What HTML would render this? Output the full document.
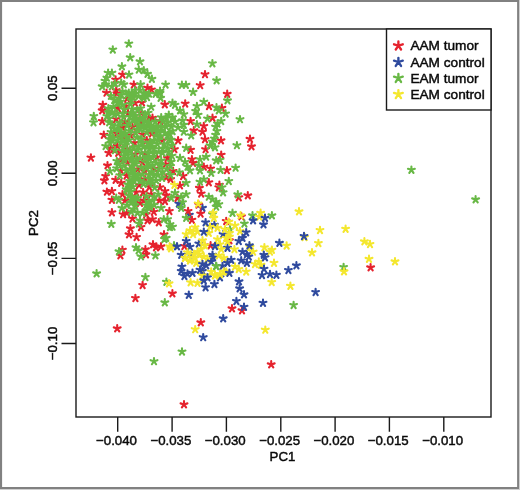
<!DOCTYPE html>
<html lang="en"><head><meta charset="utf-8"><title>PCA plot</title>
<style>html,body{margin:0;padding:0;background:#fff}body{width:520px;height:490px;overflow:hidden;position:relative}</style></head>
<body>
<svg width="520" height="490" viewBox="0 0 520 490" style="position:absolute;left:0;top:0">
<rect x="0" y="0" width="520" height="490" fill="#fff"/>
<path d="M0 0H520V490H0Z" fill="#d0d0d0"/>
<path d="M0 0H519V489H0Z" fill="#818181"/>
<path d="M2.1 2.1H517.1V487.1H2.1Z" fill="#fff"/>
<path d="M180.6 204.8l0.00 -3.24M180.6 204.8l-3.42 -1.03M180.6 204.8l3.42 -1.03M180.6 204.8l-2.07 3.06M180.6 204.8l2.07 3.06M189.4 214.8l0.00 -3.24M189.4 214.8l-3.42 -1.03M189.4 214.8l3.42 -1.03M189.4 214.8l-2.07 3.06M189.4 214.8l2.07 3.06M202.5 207.9l0.00 -3.24M202.5 207.9l-3.42 -1.03M202.5 207.9l3.42 -1.03M202.5 207.9l-2.07 3.06M202.5 207.9l2.07 3.06M178.8 203.5l0.00 -3.24M178.8 203.5l-3.42 -1.03M178.8 203.5l3.42 -1.03M178.8 203.5l-2.07 3.06M178.8 203.5l2.07 3.06" fill="none" stroke="#2f4a9e" stroke-width="2.1" stroke-linecap="round"/>
<path d="M370.6 267.4l0.00 -3.24M370.6 267.4l-3.42 -1.03M370.6 267.4l3.42 -1.03M370.6 267.4l-2.07 3.06M370.6 267.4l2.07 3.06M117.2 328.4l0.00 -3.24M117.2 328.4l-3.42 -1.03M117.2 328.4l3.42 -1.03M117.2 328.4l-2.07 3.06M117.2 328.4l2.07 3.06M184.0 404.4l0.00 -3.24M184.0 404.4l-3.42 -1.03M184.0 404.4l3.42 -1.03M184.0 404.4l-2.07 3.06M184.0 404.4l2.07 3.06M200.8 322.4l0.00 -3.24M200.8 322.4l-3.42 -1.03M200.8 322.4l3.42 -1.03M200.8 322.4l-2.07 3.06M200.8 322.4l2.07 3.06M232.0 308.4l0.00 -3.24M232.0 308.4l-3.42 -1.03M232.0 308.4l3.42 -1.03M232.0 308.4l-2.07 3.06M232.0 308.4l2.07 3.06M242.0 310.4l0.00 -3.24M242.0 310.4l-3.42 -1.03M242.0 310.4l3.42 -1.03M242.0 310.4l-2.07 3.06M242.0 310.4l2.07 3.06M271.2 364.4l0.00 -3.24M271.2 364.4l-3.42 -1.03M271.2 364.4l3.42 -1.03M271.2 364.4l-2.07 3.06M271.2 364.4l2.07 3.06M142.6 285.0l0.00 -3.24M142.6 285.0l-3.42 -1.03M142.6 285.0l3.42 -1.03M142.6 285.0l-2.07 3.06M142.6 285.0l2.07 3.06M135.4 298.0l0.00 -3.24M135.4 298.0l-3.42 -1.03M135.4 298.0l3.42 -1.03M135.4 298.0l-2.07 3.06M135.4 298.0l2.07 3.06M172.4 293.4l0.00 -3.24M172.4 293.4l-3.42 -1.03M172.4 293.4l3.42 -1.03M172.4 293.4l-2.07 3.06M172.4 293.4l2.07 3.06M120.4 255.4l0.00 -3.24M120.4 255.4l-3.42 -1.03M120.4 255.4l3.42 -1.03M120.4 255.4l-2.07 3.06M120.4 255.4l2.07 3.06M122.4 249.8l0.00 -3.24M122.4 249.8l-3.42 -1.03M122.4 249.8l3.42 -1.03M122.4 249.8l-2.07 3.06M122.4 249.8l2.07 3.06M130.4 228.4l0.00 -3.24M130.4 228.4l-3.42 -1.03M130.4 228.4l3.42 -1.03M130.4 228.4l-2.07 3.06M130.4 228.4l2.07 3.06M129.0 234.4l0.00 -3.24M129.0 234.4l-3.42 -1.03M129.0 234.4l3.42 -1.03M129.0 234.4l-2.07 3.06M129.0 234.4l2.07 3.06M136.6 237.0l0.00 -3.24M136.6 237.0l-3.42 -1.03M136.6 237.0l3.42 -1.03M136.6 237.0l-2.07 3.06M136.6 237.0l2.07 3.06M141.0 227.0l0.00 -3.24M141.0 227.0l-3.42 -1.03M141.0 227.0l3.42 -1.03M141.0 227.0l-2.07 3.06M141.0 227.0l2.07 3.06M145.4 249.4l0.00 -3.24M145.4 249.4l-3.42 -1.03M145.4 249.4l3.42 -1.03M145.4 249.4l-2.07 3.06M145.4 249.4l2.07 3.06M146.0 254.4l0.00 -3.24M146.0 254.4l-3.42 -1.03M146.0 254.4l3.42 -1.03M146.0 254.4l-2.07 3.06M146.0 254.4l2.07 3.06M153.0 244.4l0.00 -3.24M153.0 244.4l-3.42 -1.03M153.0 244.4l3.42 -1.03M153.0 244.4l-2.07 3.06M153.0 244.4l2.07 3.06M156.0 247.4l0.00 -3.24M156.0 247.4l-3.42 -1.03M156.0 247.4l3.42 -1.03M156.0 247.4l-2.07 3.06M156.0 247.4l2.07 3.06M161.0 246.4l0.00 -3.24M161.0 246.4l-3.42 -1.03M161.0 246.4l3.42 -1.03M161.0 246.4l-2.07 3.06M161.0 246.4l2.07 3.06M164.0 234.4l0.00 -3.24M164.0 234.4l-3.42 -1.03M164.0 234.4l3.42 -1.03M164.0 234.4l-2.07 3.06M164.0 234.4l2.07 3.06M122.5 74.5l0.00 -3.24M122.5 74.5l-3.42 -1.03M122.5 74.5l3.42 -1.03M122.5 74.5l-2.07 3.06M122.5 74.5l2.07 3.06M115.6 79.5l0.00 -3.24M115.6 79.5l-3.42 -1.03M115.6 79.5l3.42 -1.03M115.6 79.5l-2.07 3.06M115.6 79.5l2.07 3.06M133.8 84.5l0.00 -3.24M133.8 84.5l-3.42 -1.03M133.8 84.5l3.42 -1.03M133.8 84.5l-2.07 3.06M133.8 84.5l2.07 3.06M147.5 87.7l0.00 -3.24M147.5 87.7l-3.42 -1.03M147.5 87.7l3.42 -1.03M147.5 87.7l-2.07 3.06M147.5 87.7l2.07 3.06M106.5 92.7l0.00 -3.24M106.5 92.7l-3.42 -1.03M106.5 92.7l3.42 -1.03M106.5 92.7l-2.07 3.06M106.5 92.7l2.07 3.06M116.2 90.2l0.00 -3.24M116.2 90.2l-3.42 -1.03M116.2 90.2l3.42 -1.03M116.2 90.2l-2.07 3.06M116.2 90.2l2.07 3.06M116.9 93.3l0.00 -3.24M116.9 93.3l-3.42 -1.03M116.9 93.3l3.42 -1.03M116.9 93.3l-2.07 3.06M116.9 93.3l2.07 3.06M205.0 74.2l0.00 -3.24M205.0 74.2l-3.42 -1.03M205.0 74.2l3.42 -1.03M205.0 74.2l-2.07 3.06M205.0 74.2l2.07 3.06M200.2 85.2l0.00 -3.24M200.2 85.2l-3.42 -1.03M200.2 85.2l3.42 -1.03M200.2 85.2l-2.07 3.06M200.2 85.2l2.07 3.06M151.5 89.5l0.00 -3.24M151.5 89.5l-3.42 -1.03M151.5 89.5l3.42 -1.03M151.5 89.5l-2.07 3.06M151.5 89.5l2.07 3.06M227.2 93.9l0.00 -3.24M227.2 93.9l-3.42 -1.03M227.2 93.9l3.42 -1.03M227.2 93.9l-2.07 3.06M227.2 93.9l2.07 3.06M102.8 104.8l0.00 -3.24M102.8 104.8l-3.42 -1.03M102.8 104.8l3.42 -1.03M102.8 104.8l-2.07 3.06M102.8 104.8l2.07 3.06M102.2 110.4l0.00 -3.24M102.2 110.4l-3.42 -1.03M102.2 110.4l3.42 -1.03M102.2 110.4l-2.07 3.06M102.2 110.4l2.07 3.06M102.2 121.0l0.00 -3.24M102.2 121.0l-3.42 -1.03M102.2 121.0l3.42 -1.03M102.2 121.0l-2.07 3.06M102.2 121.0l2.07 3.06M103.8 134.8l0.00 -3.24M103.8 134.8l-3.42 -1.03M103.8 134.8l3.42 -1.03M103.8 134.8l-2.07 3.06M103.8 134.8l2.07 3.06M110.6 148.4l0.00 -3.24M110.6 148.4l-3.42 -1.03M110.6 148.4l3.42 -1.03M110.6 148.4l-2.07 3.06M110.6 148.4l2.07 3.06M118.1 108.5l0.00 -3.24M118.1 108.5l-3.42 -1.03M118.1 108.5l3.42 -1.03M118.1 108.5l-2.07 3.06M118.1 108.5l2.07 3.06M135.0 102.9l0.00 -3.24M135.0 102.9l-3.42 -1.03M135.0 102.9l3.42 -1.03M135.0 102.9l-2.07 3.06M135.0 102.9l2.07 3.06M125.0 121.7l0.00 -3.24M125.0 121.7l-3.42 -1.03M125.0 121.7l3.42 -1.03M125.0 121.7l-2.07 3.06M125.0 121.7l2.07 3.06M122.5 127.4l0.00 -3.24M122.5 127.4l-3.42 -1.03M122.5 127.4l3.42 -1.03M122.5 127.4l-2.07 3.06M122.5 127.4l2.07 3.06M134.4 142.9l0.00 -3.24M134.4 142.9l-3.42 -1.03M134.4 142.9l3.42 -1.03M134.4 142.9l-2.07 3.06M134.4 142.9l2.07 3.06M148.8 117.9l0.00 -3.24M148.8 117.9l-3.42 -1.03M148.8 117.9l3.42 -1.03M148.8 117.9l-2.07 3.06M148.8 117.9l2.07 3.06M142.5 134.2l0.00 -3.24M142.5 134.2l-3.42 -1.03M142.5 134.2l3.42 -1.03M142.5 134.2l-2.07 3.06M142.5 134.2l2.07 3.06M132.5 126.7l0.00 -3.24M132.5 126.7l-3.42 -1.03M132.5 126.7l3.42 -1.03M132.5 126.7l-2.07 3.06M132.5 126.7l2.07 3.06M164.8 104.4l0.00 -3.24M164.8 104.4l-3.42 -1.03M164.8 104.4l3.42 -1.03M164.8 104.4l-2.07 3.06M164.8 104.4l2.07 3.06M185.2 103.5l0.00 -3.24M185.2 103.5l-3.42 -1.03M185.2 103.5l3.42 -1.03M185.2 103.5l-2.07 3.06M185.2 103.5l2.07 3.06M209.0 106.0l0.00 -3.24M209.0 106.0l-3.42 -1.03M209.0 106.0l3.42 -1.03M209.0 106.0l-2.07 3.06M209.0 106.0l2.07 3.06M152.5 117.9l0.00 -3.24M152.5 117.9l-3.42 -1.03M152.5 117.9l3.42 -1.03M152.5 117.9l-2.07 3.06M152.5 117.9l2.07 3.06M160.0 121.0l0.00 -3.24M160.0 121.0l-3.42 -1.03M160.0 121.0l3.42 -1.03M160.0 121.0l-2.07 3.06M160.0 121.0l2.07 3.06M190.6 121.0l0.00 -3.24M190.6 121.0l-3.42 -1.03M190.6 121.0l3.42 -1.03M190.6 121.0l-2.07 3.06M190.6 121.0l2.07 3.06M212.5 117.9l0.00 -3.24M212.5 117.9l-3.42 -1.03M212.5 117.9l3.42 -1.03M212.5 117.9l-2.07 3.06M212.5 117.9l2.07 3.06M203.8 126.0l0.00 -3.24M203.8 126.0l-3.42 -1.03M203.8 126.0l3.42 -1.03M203.8 126.0l-2.07 3.06M203.8 126.0l2.07 3.06M193.8 130.4l0.00 -3.24M193.8 130.4l-3.42 -1.03M193.8 130.4l3.42 -1.03M193.8 130.4l-2.07 3.06M193.8 130.4l2.07 3.06M202.5 131.7l0.00 -3.24M202.5 131.7l-3.42 -1.03M202.5 131.7l3.42 -1.03M202.5 131.7l-2.07 3.06M202.5 131.7l2.07 3.06M205.0 139.2l0.00 -3.24M205.0 139.2l-3.42 -1.03M205.0 139.2l3.42 -1.03M205.0 139.2l-2.07 3.06M205.0 139.2l2.07 3.06M178.1 140.4l0.00 -3.24M178.1 140.4l-3.42 -1.03M178.1 140.4l3.42 -1.03M178.1 140.4l-2.07 3.06M178.1 140.4l2.07 3.06M162.5 140.4l0.00 -3.24M162.5 140.4l-3.42 -1.03M162.5 140.4l3.42 -1.03M162.5 140.4l-2.07 3.06M162.5 140.4l2.07 3.06M151.9 133.5l0.00 -3.24M151.9 133.5l-3.42 -1.03M151.9 133.5l3.42 -1.03M151.9 133.5l-2.07 3.06M151.9 133.5l2.07 3.06M174.4 149.2l0.00 -3.24M174.4 149.2l-3.42 -1.03M174.4 149.2l3.42 -1.03M174.4 149.2l-2.07 3.06M174.4 149.2l2.07 3.06M190.6 149.8l0.00 -3.24M190.6 149.8l-3.42 -1.03M190.6 149.8l3.42 -1.03M190.6 149.8l-2.07 3.06M190.6 149.8l2.07 3.06M205.6 149.2l0.00 -3.24M205.6 149.2l-3.42 -1.03M205.6 149.2l3.42 -1.03M205.6 149.2l-2.07 3.06M205.6 149.2l2.07 3.06M221.9 107.9l0.00 -3.24M221.9 107.9l-3.42 -1.03M221.9 107.9l3.42 -1.03M221.9 107.9l-2.07 3.06M221.9 107.9l2.07 3.06M221.0 140.4l0.00 -3.24M221.0 140.4l-3.42 -1.03M221.0 140.4l3.42 -1.03M221.0 140.4l-2.07 3.06M221.0 140.4l2.07 3.06M250.0 138.9l0.00 -3.24M250.0 138.9l-3.42 -1.03M250.0 138.9l3.42 -1.03M250.0 138.9l-2.07 3.06M250.0 138.9l2.07 3.06M251.5 146.4l0.00 -3.24M251.5 146.4l-3.42 -1.03M251.5 146.4l3.42 -1.03M251.5 146.4l-2.07 3.06M251.5 146.4l2.07 3.06M90.9 157.5l0.00 -3.24M90.9 157.5l-3.42 -1.03M90.9 157.5l3.42 -1.03M90.9 157.5l-2.07 3.06M90.9 157.5l2.07 3.06M107.5 165.4l0.00 -3.24M107.5 165.4l-3.42 -1.03M107.5 165.4l3.42 -1.03M107.5 165.4l-2.07 3.06M107.5 165.4l2.07 3.06M108.8 152.9l0.00 -3.24M108.8 152.9l-3.42 -1.03M108.8 152.9l3.42 -1.03M108.8 152.9l-2.07 3.06M108.8 152.9l2.07 3.06M104.4 180.4l0.00 -3.24M104.4 180.4l-3.42 -1.03M104.4 180.4l3.42 -1.03M104.4 180.4l-2.07 3.06M104.4 180.4l2.07 3.06M105.6 176.0l0.00 -3.24M105.6 176.0l-3.42 -1.03M105.6 176.0l3.42 -1.03M105.6 176.0l-2.07 3.06M105.6 176.0l2.07 3.06M115.6 179.8l0.00 -3.24M115.6 179.8l-3.42 -1.03M115.6 179.8l3.42 -1.03M115.6 179.8l-2.07 3.06M115.6 179.8l2.07 3.06M106.9 191.7l0.00 -3.24M106.9 191.7l-3.42 -1.03M106.9 191.7l3.42 -1.03M106.9 191.7l-2.07 3.06M106.9 191.7l2.07 3.06M111.9 191.0l0.00 -3.24M111.9 191.0l-3.42 -1.03M111.9 191.0l3.42 -1.03M111.9 191.0l-2.07 3.06M111.9 191.0l2.07 3.06M111.9 199.8l0.00 -3.24M111.9 199.8l-3.42 -1.03M111.9 199.8l3.42 -1.03M111.9 199.8l-2.07 3.06M111.9 199.8l2.07 3.06M122.5 194.2l0.00 -3.24M122.5 194.2l-3.42 -1.03M122.5 194.2l3.42 -1.03M122.5 194.2l-2.07 3.06M122.5 194.2l2.07 3.06M125.0 200.4l0.00 -3.24M125.0 200.4l-3.42 -1.03M125.0 200.4l3.42 -1.03M125.0 200.4l-2.07 3.06M125.0 200.4l2.07 3.06M136.2 192.3l0.00 -3.24M136.2 192.3l-3.42 -1.03M136.2 192.3l3.42 -1.03M136.2 192.3l-2.07 3.06M136.2 192.3l2.07 3.06M143.1 192.3l0.00 -3.24M143.1 192.3l-3.42 -1.03M143.1 192.3l3.42 -1.03M143.1 192.3l-2.07 3.06M143.1 192.3l2.07 3.06M140.0 202.9l0.00 -3.24M140.0 202.9l-3.42 -1.03M140.0 202.9l3.42 -1.03M140.0 202.9l-2.07 3.06M140.0 202.9l2.07 3.06M143.8 200.4l0.00 -3.24M143.8 200.4l-3.42 -1.03M143.8 200.4l3.42 -1.03M143.8 200.4l-2.07 3.06M143.8 200.4l2.07 3.06M127.5 162.9l0.00 -3.24M127.5 162.9l-3.42 -1.03M127.5 162.9l3.42 -1.03M127.5 162.9l-2.07 3.06M127.5 162.9l2.07 3.06M142.5 162.3l0.00 -3.24M142.5 162.3l-3.42 -1.03M142.5 162.3l3.42 -1.03M142.5 162.3l-2.07 3.06M142.5 162.3l2.07 3.06M145.0 179.2l0.00 -3.24M145.0 179.2l-3.42 -1.03M145.0 179.2l3.42 -1.03M145.0 179.2l-2.07 3.06M145.0 179.2l2.07 3.06M137.5 169.2l0.00 -3.24M137.5 169.2l-3.42 -1.03M137.5 169.2l3.42 -1.03M137.5 169.2l-2.07 3.06M137.5 169.2l2.07 3.06M121.2 182.9l0.00 -3.24M121.2 182.9l-3.42 -1.03M121.2 182.9l3.42 -1.03M121.2 182.9l-2.07 3.06M121.2 182.9l2.07 3.06M191.9 159.2l0.00 -3.24M191.9 159.2l-3.42 -1.03M191.9 159.2l3.42 -1.03M191.9 159.2l-2.07 3.06M191.9 159.2l2.07 3.06M193.1 162.9l0.00 -3.24M193.1 162.9l-3.42 -1.03M193.1 162.9l3.42 -1.03M193.1 162.9l-2.07 3.06M193.1 162.9l2.07 3.06M167.5 157.9l0.00 -3.24M167.5 157.9l-3.42 -1.03M167.5 157.9l3.42 -1.03M167.5 157.9l-2.07 3.06M167.5 157.9l2.07 3.06M165.6 164.2l0.00 -3.24M165.6 164.2l-3.42 -1.03M165.6 164.2l3.42 -1.03M165.6 164.2l-2.07 3.06M165.6 164.2l2.07 3.06M156.9 157.3l0.00 -3.24M156.9 157.3l-3.42 -1.03M156.9 157.3l3.42 -1.03M156.9 157.3l-2.07 3.06M156.9 157.3l2.07 3.06M203.8 166.7l0.00 -3.24M203.8 166.7l-3.42 -1.03M203.8 166.7l3.42 -1.03M203.8 166.7l-2.07 3.06M203.8 166.7l2.07 3.06M210.6 168.5l0.00 -3.24M210.6 168.5l-3.42 -1.03M210.6 168.5l3.42 -1.03M210.6 168.5l-2.07 3.06M210.6 168.5l2.07 3.06M173.1 171.0l0.00 -3.24M173.1 171.0l-3.42 -1.03M173.1 171.0l3.42 -1.03M173.1 171.0l-2.07 3.06M173.1 171.0l2.07 3.06M183.1 176.0l0.00 -3.24M183.1 176.0l-3.42 -1.03M183.1 176.0l3.42 -1.03M183.1 176.0l-2.07 3.06M183.1 176.0l2.07 3.06M166.2 177.3l0.00 -3.24M166.2 177.3l-3.42 -1.03M166.2 177.3l3.42 -1.03M166.2 177.3l-2.07 3.06M166.2 177.3l2.07 3.06M170.6 179.2l0.00 -3.24M170.6 179.2l-3.42 -1.03M170.6 179.2l3.42 -1.03M170.6 179.2l-2.07 3.06M170.6 179.2l2.07 3.06M208.8 182.3l0.00 -3.24M208.8 182.3l-3.42 -1.03M208.8 182.3l3.42 -1.03M208.8 182.3l-2.07 3.06M208.8 182.3l2.07 3.06M180.0 185.4l0.00 -3.24M180.0 185.4l-3.42 -1.03M180.0 185.4l3.42 -1.03M180.0 185.4l-2.07 3.06M180.0 185.4l2.07 3.06M199.4 187.9l0.00 -3.24M199.4 187.9l-3.42 -1.03M199.4 187.9l3.42 -1.03M199.4 187.9l-2.07 3.06M199.4 187.9l2.07 3.06M201.2 193.5l0.00 -3.24M201.2 193.5l-3.42 -1.03M201.2 193.5l3.42 -1.03M201.2 193.5l-2.07 3.06M201.2 193.5l2.07 3.06M160.0 187.3l0.00 -3.24M160.0 187.3l-3.42 -1.03M160.0 187.3l3.42 -1.03M160.0 187.3l-2.07 3.06M160.0 187.3l2.07 3.06M165.0 191.0l0.00 -3.24M165.0 191.0l-3.42 -1.03M165.0 191.0l3.42 -1.03M165.0 191.0l-2.07 3.06M165.0 191.0l2.07 3.06M166.2 195.4l0.00 -3.24M166.2 195.4l-3.42 -1.03M166.2 195.4l3.42 -1.03M166.2 195.4l-2.07 3.06M166.2 195.4l2.07 3.06M159.4 200.4l0.00 -3.24M159.4 200.4l-3.42 -1.03M159.4 200.4l3.42 -1.03M159.4 200.4l-2.07 3.06M159.4 200.4l2.07 3.06M165.0 201.0l0.00 -3.24M165.0 201.0l-3.42 -1.03M165.0 201.0l3.42 -1.03M165.0 201.0l-2.07 3.06M165.0 201.0l2.07 3.06M177.5 197.9l0.00 -3.24M177.5 197.9l-3.42 -1.03M177.5 197.9l3.42 -1.03M177.5 197.9l-2.07 3.06M177.5 197.9l2.07 3.06M154.4 168.5l0.00 -3.24M154.4 168.5l-3.42 -1.03M154.4 168.5l3.42 -1.03M154.4 168.5l-2.07 3.06M154.4 168.5l2.07 3.06M151.2 194.2l0.00 -3.24M151.2 194.2l-3.42 -1.03M151.2 194.2l3.42 -1.03M151.2 194.2l-2.07 3.06M151.2 194.2l2.07 3.06M221.2 154.8l0.00 -3.24M221.2 154.8l-3.42 -1.03M221.2 154.8l3.42 -1.03M221.2 154.8l-2.07 3.06M221.2 154.8l2.07 3.06M226.9 170.2l0.00 -3.24M226.9 170.2l-3.42 -1.03M226.9 170.2l3.42 -1.03M226.9 170.2l-2.07 3.06M226.9 170.2l2.07 3.06M219.4 184.8l0.00 -3.24M219.4 184.8l-3.42 -1.03M219.4 184.8l3.42 -1.03M219.4 184.8l-2.07 3.06M219.4 184.8l2.07 3.06M218.8 187.3l0.00 -3.24M218.8 187.3l-3.42 -1.03M218.8 187.3l3.42 -1.03M218.8 187.3l-2.07 3.06M218.8 187.3l2.07 3.06M238.8 197.3l0.00 -3.24M238.8 197.3l-3.42 -1.03M238.8 197.3l3.42 -1.03M238.8 197.3l-2.07 3.06M238.8 197.3l2.07 3.06M247.8 195.4l0.00 -3.24M247.8 195.4l-3.42 -1.03M247.8 195.4l3.42 -1.03M247.8 195.4l-2.07 3.06M247.8 195.4l2.07 3.06M111.9 212.3l0.00 -3.24M111.9 212.3l-3.42 -1.03M111.9 212.3l3.42 -1.03M111.9 212.3l-2.07 3.06M111.9 212.3l2.07 3.06M123.1 214.2l0.00 -3.24M123.1 214.2l-3.42 -1.03M123.1 214.2l3.42 -1.03M123.1 214.2l-2.07 3.06M123.1 214.2l2.07 3.06M126.9 212.9l0.00 -3.24M126.9 212.9l-3.42 -1.03M126.9 212.9l3.42 -1.03M126.9 212.9l-2.07 3.06M126.9 212.9l2.07 3.06M132.5 218.5l0.00 -3.24M132.5 218.5l-3.42 -1.03M132.5 218.5l3.42 -1.03M132.5 218.5l-2.07 3.06M132.5 218.5l2.07 3.06M147.5 220.4l0.00 -3.24M147.5 220.4l-3.42 -1.03M147.5 220.4l3.42 -1.03M147.5 220.4l-2.07 3.06M147.5 220.4l2.07 3.06M152.5 219.2l0.00 -3.24M152.5 219.2l-3.42 -1.03M152.5 219.2l3.42 -1.03M152.5 219.2l-2.07 3.06M152.5 219.2l2.07 3.06M158.8 222.3l0.00 -3.24M158.8 222.3l-3.42 -1.03M158.8 222.3l3.42 -1.03M158.8 222.3l-2.07 3.06M158.8 222.3l2.07 3.06M153.8 211.7l0.00 -3.24M153.8 211.7l-3.42 -1.03M153.8 211.7l3.42 -1.03M153.8 211.7l-2.07 3.06M153.8 211.7l2.07 3.06M146.2 214.2l0.00 -3.24M146.2 214.2l-3.42 -1.03M146.2 214.2l3.42 -1.03M146.2 214.2l-2.07 3.06M146.2 214.2l2.07 3.06M169.4 211.0l0.00 -3.24M169.4 211.0l-3.42 -1.03M169.4 211.0l3.42 -1.03M169.4 211.0l-2.07 3.06M169.4 211.0l2.07 3.06M188.1 211.0l0.00 -3.24M188.1 211.0l-3.42 -1.03M188.1 211.0l3.42 -1.03M188.1 211.0l-2.07 3.06M188.1 211.0l2.07 3.06M200.6 213.5l0.00 -3.24M200.6 213.5l-3.42 -1.03M200.6 213.5l3.42 -1.03M200.6 213.5l-2.07 3.06M200.6 213.5l2.07 3.06M191.9 219.8l0.00 -3.24M191.9 219.8l-3.42 -1.03M191.9 219.8l3.42 -1.03M191.9 219.8l-2.07 3.06M191.9 219.8l2.07 3.06M226.2 221.0l0.00 -3.24M226.2 221.0l-3.42 -1.03M226.2 221.0l3.42 -1.03M226.2 221.0l-2.07 3.06M226.2 221.0l2.07 3.06M184.4 246.0l0.00 -3.24M184.4 246.0l-3.42 -1.03M184.4 246.0l3.42 -1.03M184.4 246.0l-2.07 3.06M184.4 246.0l2.07 3.06M210.6 245.4l0.00 -3.24M210.6 245.4l-3.42 -1.03M210.6 245.4l3.42 -1.03M210.6 245.4l-2.07 3.06M210.6 245.4l2.07 3.06M229.4 240.4l0.00 -3.24M229.4 240.4l-3.42 -1.03M229.4 240.4l3.42 -1.03M229.4 240.4l-2.07 3.06M229.4 240.4l2.07 3.06M198.5 204.5l0.00 -3.24M198.5 204.5l-3.42 -1.03M198.5 204.5l3.42 -1.03M198.5 204.5l-2.07 3.06M198.5 204.5l2.07 3.06M241.4 216.4l0.00 -3.24M241.4 216.4l-3.42 -1.03M241.4 216.4l3.42 -1.03M241.4 216.4l-2.07 3.06M241.4 216.4l2.07 3.06M127.0 149.0l0.00 -3.24M127.0 149.0l-3.42 -1.03M127.0 149.0l3.42 -1.03M127.0 149.0l-2.07 3.06M127.0 149.0l2.07 3.06M146.8 140.2l0.00 -3.24M146.8 140.2l-3.42 -1.03M146.8 140.2l3.42 -1.03M146.8 140.2l-2.07 3.06M146.8 140.2l2.07 3.06M149.3 187.1l0.00 -3.24M149.3 187.1l-3.42 -1.03M149.3 187.1l3.42 -1.03M149.3 187.1l-2.07 3.06M149.3 187.1l2.07 3.06M135.5 154.3l0.00 -3.24M135.5 154.3l-3.42 -1.03M135.5 154.3l3.42 -1.03M135.5 154.3l-2.07 3.06M135.5 154.3l2.07 3.06M116.0 119.1l0.00 -3.24M116.0 119.1l-3.42 -1.03M116.0 119.1l3.42 -1.03M116.0 119.1l-2.07 3.06M116.0 119.1l2.07 3.06M126.5 175.6l0.00 -3.24M126.5 175.6l-3.42 -1.03M126.5 175.6l3.42 -1.03M126.5 175.6l-2.07 3.06M126.5 175.6l2.07 3.06M140.7 121.8l0.00 -3.24M140.7 121.8l-3.42 -1.03M140.7 121.8l3.42 -1.03M140.7 121.8l-2.07 3.06M140.7 121.8l2.07 3.06M141.5 113.1l0.00 -3.24M141.5 113.1l-3.42 -1.03M141.5 113.1l3.42 -1.03M141.5 113.1l-2.07 3.06M141.5 113.1l2.07 3.06M116.8 133.5l0.00 -3.24M116.8 133.5l-3.42 -1.03M116.8 133.5l3.42 -1.03M116.8 133.5l-2.07 3.06M116.8 133.5l2.07 3.06M118.2 152.9l0.00 -3.24M118.2 152.9l-3.42 -1.03M118.2 152.9l3.42 -1.03M118.2 152.9l-2.07 3.06M118.2 152.9l2.07 3.06M123.6 139.0l0.00 -3.24M123.6 139.0l-3.42 -1.03M123.6 139.0l3.42 -1.03M123.6 139.0l-2.07 3.06M123.6 139.0l2.07 3.06M139.1 184.8l0.00 -3.24M139.1 184.8l-3.42 -1.03M139.1 184.8l3.42 -1.03M139.1 184.8l-2.07 3.06M139.1 184.8l2.07 3.06M145.1 153.1l0.00 -3.24M145.1 153.1l-3.42 -1.03M145.1 153.1l3.42 -1.03M145.1 153.1l-2.07 3.06M145.1 153.1l2.07 3.06M125.7 106.2l0.00 -3.24M125.7 106.2l-3.42 -1.03M125.7 106.2l3.42 -1.03M125.7 106.2l-2.07 3.06M125.7 106.2l2.07 3.06M120.6 160.1l0.00 -3.24M120.6 160.1l-3.42 -1.03M120.6 160.1l3.42 -1.03M120.6 160.1l-2.07 3.06M120.6 160.1l2.07 3.06M121.0 170.8l0.00 -3.24M121.0 170.8l-3.42 -1.03M121.0 170.8l3.42 -1.03M121.0 170.8l-2.07 3.06M121.0 170.8l2.07 3.06M127.1 98.7l0.00 -3.24M127.1 98.7l-3.42 -1.03M127.1 98.7l3.42 -1.03M127.1 98.7l-2.07 3.06M127.1 98.7l2.07 3.06M128.0 113.2l0.00 -3.24M128.0 113.2l-3.42 -1.03M128.0 113.2l3.42 -1.03M128.0 113.2l-2.07 3.06M128.0 113.2l2.07 3.06M144.9 171.3l0.00 -3.24M144.9 171.3l-3.42 -1.03M144.9 171.3l3.42 -1.03M144.9 171.3l-2.07 3.06M144.9 171.3l2.07 3.06M142.0 102.4l0.00 -3.24M142.0 102.4l-3.42 -1.03M142.0 102.4l3.42 -1.03M142.0 102.4l-2.07 3.06M142.0 102.4l2.07 3.06M117.3 145.9l0.00 -3.24M117.3 145.9l-3.42 -1.03M117.3 145.9l3.42 -1.03M117.3 145.9l-2.07 3.06M117.3 145.9l2.07 3.06M130.6 135.3l0.00 -3.24M130.6 135.3l-3.42 -1.03M130.6 135.3l3.42 -1.03M130.6 135.3l-2.07 3.06M130.6 135.3l2.07 3.06" fill="none" stroke="#e5232e" stroke-width="2.1" stroke-linecap="round"/>
<path d="M411.4 169.8l0.00 -3.24M411.4 169.8l-3.42 -1.03M411.4 169.8l3.42 -1.03M411.4 169.8l-2.07 3.06M411.4 169.8l2.07 3.06M475.6 199.4l0.00 -3.24M475.6 199.4l-3.42 -1.03M475.6 199.4l3.42 -1.03M475.6 199.4l-2.07 3.06M475.6 199.4l2.07 3.06M343.6 267.0l0.00 -3.24M343.6 267.0l-3.42 -1.03M343.6 267.0l3.42 -1.03M343.6 267.0l-2.07 3.06M343.6 267.0l2.07 3.06M293.6 305.0l0.00 -3.24M293.6 305.0l-3.42 -1.03M293.6 305.0l3.42 -1.03M293.6 305.0l-2.07 3.06M293.6 305.0l2.07 3.06M154.0 361.2l0.00 -3.24M154.0 361.2l-3.42 -1.03M154.0 361.2l3.42 -1.03M154.0 361.2l-2.07 3.06M154.0 361.2l2.07 3.06M182.0 351.6l0.00 -3.24M182.0 351.6l-3.42 -1.03M182.0 351.6l3.42 -1.03M182.0 351.6l-2.07 3.06M182.0 351.6l2.07 3.06M164.8 302.4l0.00 -3.24M164.8 302.4l-3.42 -1.03M164.8 302.4l3.42 -1.03M164.8 302.4l-2.07 3.06M164.8 302.4l2.07 3.06M96.6 273.4l0.00 -3.24M96.6 273.4l-3.42 -1.03M96.6 273.4l3.42 -1.03M96.6 273.4l-2.07 3.06M96.6 273.4l2.07 3.06M145.4 277.0l0.00 -3.24M145.4 277.0l-3.42 -1.03M145.4 277.0l3.42 -1.03M145.4 277.0l-2.07 3.06M145.4 277.0l2.07 3.06M166.4 281.8l0.00 -3.24M166.4 281.8l-3.42 -1.03M166.4 281.8l3.42 -1.03M166.4 281.8l-2.07 3.06M166.4 281.8l2.07 3.06M119.0 251.4l0.00 -3.24M119.0 251.4l-3.42 -1.03M119.0 251.4l3.42 -1.03M119.0 251.4l-2.07 3.06M119.0 251.4l2.07 3.06M111.3 223.9l0.00 -3.24M111.3 223.9l-3.42 -1.03M111.3 223.9l3.42 -1.03M111.3 223.9l-2.07 3.06M111.3 223.9l2.07 3.06M136.0 247.4l0.00 -3.24M136.0 247.4l-3.42 -1.03M136.0 247.4l3.42 -1.03M136.0 247.4l-2.07 3.06M136.0 247.4l2.07 3.06M138.6 250.4l0.00 -3.24M138.6 250.4l-3.42 -1.03M138.6 250.4l3.42 -1.03M138.6 250.4l-2.07 3.06M138.6 250.4l2.07 3.06M141.0 256.4l0.00 -3.24M141.0 256.4l-3.42 -1.03M141.0 256.4l3.42 -1.03M141.0 256.4l-2.07 3.06M141.0 256.4l2.07 3.06M155.4 255.4l0.00 -3.24M155.4 255.4l-3.42 -1.03M155.4 255.4l3.42 -1.03M155.4 255.4l-2.07 3.06M155.4 255.4l2.07 3.06M164.4 239.0l0.00 -3.24M164.4 239.0l-3.42 -1.03M164.4 239.0l3.42 -1.03M164.4 239.0l-2.07 3.06M164.4 239.0l2.07 3.06M170.0 227.0l0.00 -3.24M170.0 227.0l-3.42 -1.03M170.0 227.0l3.42 -1.03M170.0 227.0l-2.07 3.06M170.0 227.0l2.07 3.06M174.0 245.4l0.00 -3.24M174.0 245.4l-3.42 -1.03M174.0 245.4l3.42 -1.03M174.0 245.4l-2.07 3.06M174.0 245.4l2.07 3.06M128.8 43.6l0.00 -3.24M128.8 43.6l-3.42 -1.03M128.8 43.6l3.42 -1.03M128.8 43.6l-2.07 3.06M128.8 43.6l2.07 3.06M112.8 49.5l0.00 -3.24M112.8 49.5l-3.42 -1.03M112.8 49.5l3.42 -1.03M112.8 49.5l-2.07 3.06M112.8 49.5l2.07 3.06M130.2 57.4l0.00 -3.24M130.2 57.4l-3.42 -1.03M130.2 57.4l3.42 -1.03M130.2 57.4l-2.07 3.06M130.2 57.4l2.07 3.06M140.0 61.4l0.00 -3.24M140.0 61.4l-3.42 -1.03M140.0 61.4l3.42 -1.03M140.0 61.4l-2.07 3.06M140.0 61.4l2.07 3.06M121.9 66.4l0.00 -3.24M121.9 66.4l-3.42 -1.03M121.9 66.4l3.42 -1.03M121.9 66.4l-2.07 3.06M121.9 66.4l2.07 3.06M138.8 69.5l0.00 -3.24M138.8 69.5l-3.42 -1.03M138.8 69.5l3.42 -1.03M138.8 69.5l-2.07 3.06M138.8 69.5l2.07 3.06M143.8 70.2l0.00 -3.24M143.8 70.2l-3.42 -1.03M143.8 70.2l3.42 -1.03M143.8 70.2l-2.07 3.06M143.8 70.2l2.07 3.06M108.1 72.7l0.00 -3.24M108.1 72.7l-3.42 -1.03M108.1 72.7l3.42 -1.03M108.1 72.7l-2.07 3.06M108.1 72.7l2.07 3.06M111.9 72.7l0.00 -3.24M111.9 72.7l-3.42 -1.03M111.9 72.7l3.42 -1.03M111.9 72.7l-2.07 3.06M111.9 72.7l2.07 3.06M129.0 74.5l0.00 -3.24M129.0 74.5l-3.42 -1.03M129.0 74.5l3.42 -1.03M129.0 74.5l-2.07 3.06M129.0 74.5l2.07 3.06M147.5 73.9l0.00 -3.24M147.5 73.9l-3.42 -1.03M147.5 73.9l3.42 -1.03M147.5 73.9l-2.07 3.06M147.5 73.9l2.07 3.06M105.0 80.8l0.00 -3.24M105.0 80.8l-3.42 -1.03M105.0 80.8l3.42 -1.03M105.0 80.8l-2.07 3.06M105.0 80.8l2.07 3.06M106.9 77.7l0.00 -3.24M106.9 77.7l-3.42 -1.03M106.9 77.7l3.42 -1.03M106.9 77.7l-2.07 3.06M106.9 77.7l2.07 3.06M102.2 86.4l0.00 -3.24M102.2 86.4l-3.42 -1.03M102.2 86.4l3.42 -1.03M102.2 86.4l-2.07 3.06M102.2 86.4l2.07 3.06M105.6 84.4l0.00 -3.24M105.6 84.4l-3.42 -1.03M105.6 84.4l3.42 -1.03M105.6 84.4l-2.07 3.06M105.6 84.4l2.07 3.06M115.0 83.3l0.00 -3.24M115.0 83.3l-3.42 -1.03M115.0 83.3l3.42 -1.03M115.0 83.3l-2.07 3.06M115.0 83.3l2.07 3.06M121.2 82.7l0.00 -3.24M121.2 82.7l-3.42 -1.03M121.2 82.7l3.42 -1.03M121.2 82.7l-2.07 3.06M121.2 82.7l2.07 3.06M123.8 84.4l0.00 -3.24M123.8 84.4l-3.42 -1.03M123.8 84.4l3.42 -1.03M123.8 84.4l-2.07 3.06M123.8 84.4l2.07 3.06M140.6 84.4l0.00 -3.24M140.6 84.4l-3.42 -1.03M140.6 84.4l3.42 -1.03M140.6 84.4l-2.07 3.06M140.6 84.4l2.07 3.06M135.0 90.2l0.00 -3.24M135.0 90.2l-3.42 -1.03M135.0 90.2l3.42 -1.03M135.0 90.2l-2.07 3.06M135.0 90.2l2.07 3.06M140.0 90.2l0.00 -3.24M140.0 90.2l-3.42 -1.03M140.0 90.2l3.42 -1.03M140.0 90.2l-2.07 3.06M140.0 90.2l2.07 3.06M111.9 86.4l0.00 -3.24M111.9 86.4l-3.42 -1.03M111.9 86.4l3.42 -1.03M111.9 86.4l-2.07 3.06M111.9 86.4l2.07 3.06M122.5 91.4l0.00 -3.24M122.5 91.4l-3.42 -1.03M122.5 91.4l3.42 -1.03M122.5 91.4l-2.07 3.06M122.5 91.4l2.07 3.06M128.8 92.7l0.00 -3.24M128.8 92.7l-3.42 -1.03M128.8 92.7l3.42 -1.03M128.8 92.7l-2.07 3.06M128.8 92.7l2.07 3.06M143.8 92.7l0.00 -3.24M143.8 92.7l-3.42 -1.03M143.8 92.7l3.42 -1.03M143.8 92.7l-2.07 3.06M143.8 92.7l2.07 3.06M212.4 63.3l0.00 -3.24M212.4 63.3l-3.42 -1.03M212.4 63.3l3.42 -1.03M212.4 63.3l-2.07 3.06M212.4 63.3l2.07 3.06M181.9 84.9l0.00 -3.24M181.9 84.9l-3.42 -1.03M181.9 84.9l3.42 -1.03M181.9 84.9l-2.07 3.06M181.9 84.9l2.07 3.06M185.9 84.9l0.00 -3.24M185.9 84.9l-3.42 -1.03M185.9 84.9l3.42 -1.03M185.9 84.9l-2.07 3.06M185.9 84.9l2.07 3.06M193.1 91.9l0.00 -3.24M193.1 91.9l-3.42 -1.03M193.1 91.9l3.42 -1.03M193.1 91.9l-2.07 3.06M193.1 91.9l2.07 3.06M165.6 84.5l0.00 -3.24M165.6 84.5l-3.42 -1.03M165.6 84.5l3.42 -1.03M165.6 84.5l-2.07 3.06M165.6 84.5l2.07 3.06M151.9 78.9l0.00 -3.24M151.9 78.9l-3.42 -1.03M151.9 78.9l3.42 -1.03M151.9 78.9l-2.07 3.06M151.9 78.9l2.07 3.06M160.0 90.8l0.00 -3.24M160.0 90.8l-3.42 -1.03M160.0 90.8l3.42 -1.03M160.0 90.8l-2.07 3.06M160.0 90.8l2.07 3.06M155.6 93.9l0.00 -3.24M155.6 93.9l-3.42 -1.03M155.6 93.9l3.42 -1.03M155.6 93.9l-2.07 3.06M155.6 93.9l2.07 3.06M216.6 80.4l0.00 -3.24M216.6 80.4l-3.42 -1.03M216.6 80.4l3.42 -1.03M216.6 80.4l-2.07 3.06M216.6 80.4l2.07 3.06M93.8 116.0l0.00 -3.24M93.8 116.0l-3.42 -1.03M93.8 116.0l3.42 -1.03M93.8 116.0l-2.07 3.06M93.8 116.0l2.07 3.06M93.5 122.3l0.00 -3.24M93.5 122.3l-3.42 -1.03M93.5 122.3l3.42 -1.03M93.5 122.3l-2.07 3.06M93.5 122.3l2.07 3.06M105.6 146.0l0.00 -3.24M105.6 146.0l-3.42 -1.03M105.6 146.0l3.42 -1.03M105.6 146.0l-2.07 3.06M105.6 146.0l2.07 3.06M160.0 92.9l0.00 -3.24M160.0 92.9l-3.42 -1.03M160.0 92.9l3.42 -1.03M160.0 92.9l-2.07 3.06M160.0 92.9l2.07 3.06M160.6 97.9l0.00 -3.24M160.6 97.9l-3.42 -1.03M160.6 97.9l3.42 -1.03M160.6 97.9l-2.07 3.06M160.6 97.9l2.07 3.06M172.5 102.9l0.00 -3.24M172.5 102.9l-3.42 -1.03M172.5 102.9l3.42 -1.03M172.5 102.9l-2.07 3.06M172.5 102.9l2.07 3.06M175.0 104.8l0.00 -3.24M175.0 104.8l-3.42 -1.03M175.0 104.8l3.42 -1.03M175.0 104.8l-2.07 3.06M175.0 104.8l2.07 3.06M203.8 101.7l0.00 -3.24M203.8 101.7l-3.42 -1.03M203.8 101.7l3.42 -1.03M203.8 101.7l-2.07 3.06M203.8 101.7l2.07 3.06M196.9 106.0l0.00 -3.24M196.9 106.0l-3.42 -1.03M196.9 106.0l3.42 -1.03M196.9 106.0l-2.07 3.06M196.9 106.0l2.07 3.06M195.6 111.0l0.00 -3.24M195.6 111.0l-3.42 -1.03M195.6 111.0l3.42 -1.03M195.6 111.0l-2.07 3.06M195.6 111.0l2.07 3.06M198.1 114.8l0.00 -3.24M198.1 114.8l-3.42 -1.03M198.1 114.8l3.42 -1.03M198.1 114.8l-2.07 3.06M198.1 114.8l2.07 3.06M180.0 110.4l0.00 -3.24M180.0 110.4l-3.42 -1.03M180.0 110.4l3.42 -1.03M180.0 110.4l-2.07 3.06M180.0 110.4l2.07 3.06M183.8 114.2l0.00 -3.24M183.8 114.2l-3.42 -1.03M183.8 114.2l3.42 -1.03M183.8 114.2l-2.07 3.06M183.8 114.2l2.07 3.06M168.8 114.8l0.00 -3.24M168.8 114.8l-3.42 -1.03M168.8 114.8l3.42 -1.03M168.8 114.8l-2.07 3.06M168.8 114.8l2.07 3.06M172.5 117.3l0.00 -3.24M172.5 117.3l-3.42 -1.03M172.5 117.3l3.42 -1.03M172.5 117.3l-2.07 3.06M172.5 117.3l2.07 3.06M161.2 117.3l0.00 -3.24M161.2 117.3l-3.42 -1.03M161.2 117.3l3.42 -1.03M161.2 117.3l-2.07 3.06M161.2 117.3l2.07 3.06M162.5 121.0l0.00 -3.24M162.5 121.0l-3.42 -1.03M162.5 121.0l3.42 -1.03M162.5 121.0l-2.07 3.06M162.5 121.0l2.07 3.06M207.5 118.5l0.00 -3.24M207.5 118.5l-3.42 -1.03M207.5 118.5l3.42 -1.03M207.5 118.5l-2.07 3.06M207.5 118.5l2.07 3.06M182.5 120.4l0.00 -3.24M182.5 120.4l-3.42 -1.03M182.5 120.4l3.42 -1.03M182.5 120.4l-2.07 3.06M182.5 120.4l2.07 3.06M183.8 124.8l0.00 -3.24M183.8 124.8l-3.42 -1.03M183.8 124.8l3.42 -1.03M183.8 124.8l-2.07 3.06M183.8 124.8l2.07 3.06M216.5 107.4l0.00 -3.24M216.5 107.4l-3.42 -1.03M216.5 107.4l3.42 -1.03M216.5 107.4l-2.07 3.06M216.5 107.4l2.07 3.06M151.2 106.7l0.00 -3.24M151.2 106.7l-3.42 -1.03M151.2 106.7l3.42 -1.03M151.2 106.7l-2.07 3.06M151.2 106.7l2.07 3.06M151.2 126.7l0.00 -3.24M151.2 126.7l-3.42 -1.03M151.2 126.7l3.42 -1.03M151.2 126.7l-2.07 3.06M151.2 126.7l2.07 3.06M156.2 126.7l0.00 -3.24M156.2 126.7l-3.42 -1.03M156.2 126.7l3.42 -1.03M156.2 126.7l-2.07 3.06M156.2 126.7l2.07 3.06M161.2 127.9l0.00 -3.24M161.2 127.9l-3.42 -1.03M161.2 127.9l3.42 -1.03M161.2 127.9l-2.07 3.06M161.2 127.9l2.07 3.06M166.2 126.7l0.00 -3.24M166.2 126.7l-3.42 -1.03M166.2 126.7l3.42 -1.03M166.2 126.7l-2.07 3.06M166.2 126.7l2.07 3.06M171.2 126.7l0.00 -3.24M171.2 126.7l-3.42 -1.03M171.2 126.7l3.42 -1.03M171.2 126.7l-2.07 3.06M171.2 126.7l2.07 3.06M196.9 124.2l0.00 -3.24M196.9 124.2l-3.42 -1.03M196.9 124.2l3.42 -1.03M196.9 124.2l-2.07 3.06M196.9 124.2l2.07 3.06M183.8 131.7l0.00 -3.24M183.8 131.7l-3.42 -1.03M183.8 131.7l3.42 -1.03M183.8 131.7l-2.07 3.06M183.8 131.7l2.07 3.06M191.2 135.4l0.00 -3.24M191.2 135.4l-3.42 -1.03M191.2 135.4l3.42 -1.03M191.2 135.4l-2.07 3.06M191.2 135.4l2.07 3.06M170.0 134.2l0.00 -3.24M170.0 134.2l-3.42 -1.03M170.0 134.2l3.42 -1.03M170.0 134.2l-2.07 3.06M170.0 134.2l2.07 3.06M168.8 139.2l0.00 -3.24M168.8 139.2l-3.42 -1.03M168.8 139.2l3.42 -1.03M168.8 139.2l-2.07 3.06M168.8 139.2l2.07 3.06M165.0 132.9l0.00 -3.24M165.0 132.9l-3.42 -1.03M165.0 132.9l3.42 -1.03M165.0 132.9l-2.07 3.06M165.0 132.9l2.07 3.06M153.8 140.4l0.00 -3.24M153.8 140.4l-3.42 -1.03M153.8 140.4l3.42 -1.03M153.8 140.4l-2.07 3.06M153.8 140.4l2.07 3.06M157.5 144.2l0.00 -3.24M157.5 144.2l-3.42 -1.03M157.5 144.2l3.42 -1.03M157.5 144.2l-2.07 3.06M157.5 144.2l2.07 3.06M152.5 146.7l0.00 -3.24M152.5 146.7l-3.42 -1.03M152.5 146.7l3.42 -1.03M152.5 146.7l-2.07 3.06M152.5 146.7l2.07 3.06M186.2 147.9l0.00 -3.24M186.2 147.9l-3.42 -1.03M186.2 147.9l3.42 -1.03M186.2 147.9l-2.07 3.06M186.2 147.9l2.07 3.06M212.5 141.7l0.00 -3.24M212.5 141.7l-3.42 -1.03M212.5 141.7l3.42 -1.03M212.5 141.7l-2.07 3.06M212.5 141.7l2.07 3.06M210.0 145.4l0.00 -3.24M210.0 145.4l-3.42 -1.03M210.0 145.4l3.42 -1.03M210.0 145.4l-2.07 3.06M210.0 145.4l2.07 3.06M167.5 147.9l0.00 -3.24M167.5 147.9l-3.42 -1.03M167.5 147.9l3.42 -1.03M167.5 147.9l-2.07 3.06M167.5 147.9l2.07 3.06M227.5 100.4l0.00 -3.24M227.5 100.4l-3.42 -1.03M227.5 100.4l3.42 -1.03M227.5 100.4l-2.07 3.06M227.5 100.4l2.07 3.06M218.8 110.4l0.00 -3.24M218.8 110.4l-3.42 -1.03M218.8 110.4l3.42 -1.03M218.8 110.4l-2.07 3.06M218.8 110.4l2.07 3.06M225.6 113.5l0.00 -3.24M225.6 113.5l-3.42 -1.03M225.6 113.5l3.42 -1.03M225.6 113.5l-2.07 3.06M225.6 113.5l2.07 3.06M240.0 119.2l0.00 -3.24M240.0 119.2l-3.42 -1.03M240.0 119.2l3.42 -1.03M240.0 119.2l-2.07 3.06M240.0 119.2l2.07 3.06M221.2 121.0l0.00 -3.24M221.2 121.0l-3.42 -1.03M221.2 121.0l3.42 -1.03M221.2 121.0l-2.07 3.06M221.2 121.0l2.07 3.06M217.5 123.5l0.00 -3.24M217.5 123.5l-3.42 -1.03M217.5 123.5l3.42 -1.03M217.5 123.5l-2.07 3.06M217.5 123.5l2.07 3.06M215.6 126.7l0.00 -3.24M215.6 126.7l-3.42 -1.03M215.6 126.7l3.42 -1.03M215.6 126.7l-2.07 3.06M215.6 126.7l2.07 3.06M216.9 131.0l0.00 -3.24M216.9 131.0l-3.42 -1.03M216.9 131.0l3.42 -1.03M216.9 131.0l-2.07 3.06M216.9 131.0l2.07 3.06M215.6 134.8l0.00 -3.24M215.6 134.8l-3.42 -1.03M215.6 134.8l3.42 -1.03M215.6 134.8l-2.07 3.06M215.6 134.8l2.07 3.06M214.4 138.5l0.00 -3.24M214.4 138.5l-3.42 -1.03M214.4 138.5l3.42 -1.03M214.4 138.5l-2.07 3.06M214.4 138.5l2.07 3.06M215.0 147.3l0.00 -3.24M215.0 147.3l-3.42 -1.03M215.0 147.3l3.42 -1.03M215.0 147.3l-2.07 3.06M215.0 147.3l2.07 3.06M236.9 145.2l0.00 -3.24M236.9 145.2l-3.42 -1.03M236.9 145.2l3.42 -1.03M236.9 145.2l-2.07 3.06M236.9 145.2l2.07 3.06M110.0 171.0l0.00 -3.24M110.0 171.0l-3.42 -1.03M110.0 171.0l3.42 -1.03M110.0 171.0l-2.07 3.06M110.0 171.0l2.07 3.06M116.2 197.9l0.00 -3.24M116.2 197.9l-3.42 -1.03M116.2 197.9l3.42 -1.03M116.2 197.9l-2.07 3.06M116.2 197.9l2.07 3.06M126.2 189.2l0.00 -3.24M126.2 189.2l-3.42 -1.03M126.2 189.2l3.42 -1.03M126.2 189.2l-2.07 3.06M126.2 189.2l2.07 3.06M153.8 149.2l0.00 -3.24M153.8 149.2l-3.42 -1.03M153.8 149.2l3.42 -1.03M153.8 149.2l-2.07 3.06M153.8 149.2l2.07 3.06M158.8 151.7l0.00 -3.24M158.8 151.7l-3.42 -1.03M158.8 151.7l3.42 -1.03M158.8 151.7l-2.07 3.06M158.8 151.7l2.07 3.06M162.5 152.9l0.00 -3.24M162.5 152.9l-3.42 -1.03M162.5 152.9l3.42 -1.03M162.5 152.9l-2.07 3.06M162.5 152.9l2.07 3.06M168.8 151.7l0.00 -3.24M168.8 151.7l-3.42 -1.03M168.8 151.7l3.42 -1.03M168.8 151.7l-2.07 3.06M168.8 151.7l2.07 3.06M152.5 157.9l0.00 -3.24M152.5 157.9l-3.42 -1.03M152.5 157.9l3.42 -1.03M152.5 157.9l-2.07 3.06M152.5 157.9l2.07 3.06M161.2 160.4l0.00 -3.24M161.2 160.4l-3.42 -1.03M161.2 160.4l3.42 -1.03M161.2 160.4l-2.07 3.06M161.2 160.4l2.07 3.06M152.5 165.4l0.00 -3.24M152.5 165.4l-3.42 -1.03M152.5 165.4l3.42 -1.03M152.5 165.4l-2.07 3.06M152.5 165.4l2.07 3.06M158.8 169.2l0.00 -3.24M158.8 169.2l-3.42 -1.03M158.8 169.2l3.42 -1.03M158.8 169.2l-2.07 3.06M158.8 169.2l2.07 3.06M162.5 171.7l0.00 -3.24M162.5 171.7l-3.42 -1.03M162.5 171.7l3.42 -1.03M162.5 171.7l-2.07 3.06M162.5 171.7l2.07 3.06M153.8 175.4l0.00 -3.24M153.8 175.4l-3.42 -1.03M153.8 175.4l3.42 -1.03M153.8 175.4l-2.07 3.06M153.8 175.4l2.07 3.06M156.2 180.4l0.00 -3.24M156.2 180.4l-3.42 -1.03M156.2 180.4l3.42 -1.03M156.2 180.4l-2.07 3.06M156.2 180.4l2.07 3.06M152.5 182.9l0.00 -3.24M152.5 182.9l-3.42 -1.03M152.5 182.9l3.42 -1.03M152.5 182.9l-2.07 3.06M152.5 182.9l2.07 3.06M180.0 157.9l0.00 -3.24M180.0 157.9l-3.42 -1.03M180.0 157.9l3.42 -1.03M180.0 157.9l-2.07 3.06M180.0 157.9l2.07 3.06M185.0 161.7l0.00 -3.24M185.0 161.7l-3.42 -1.03M185.0 161.7l3.42 -1.03M185.0 161.7l-2.07 3.06M185.0 161.7l2.07 3.06M187.5 166.7l0.00 -3.24M187.5 166.7l-3.42 -1.03M187.5 166.7l3.42 -1.03M187.5 166.7l-2.07 3.06M187.5 166.7l2.07 3.06M190.0 170.4l0.00 -3.24M190.0 170.4l-3.42 -1.03M190.0 170.4l3.42 -1.03M190.0 170.4l-2.07 3.06M190.0 170.4l2.07 3.06M200.0 159.2l0.00 -3.24M200.0 159.2l-3.42 -1.03M200.0 159.2l3.42 -1.03M200.0 159.2l-2.07 3.06M200.0 159.2l2.07 3.06M198.8 165.4l0.00 -3.24M198.8 165.4l-3.42 -1.03M198.8 165.4l3.42 -1.03M198.8 165.4l-2.07 3.06M198.8 165.4l2.07 3.06M200.0 170.4l0.00 -3.24M200.0 170.4l-3.42 -1.03M200.0 170.4l3.42 -1.03M200.0 170.4l-2.07 3.06M200.0 170.4l2.07 3.06M206.2 156.7l0.00 -3.24M206.2 156.7l-3.42 -1.03M206.2 156.7l3.42 -1.03M206.2 156.7l-2.07 3.06M206.2 156.7l2.07 3.06M211.2 172.9l0.00 -3.24M211.2 172.9l-3.42 -1.03M211.2 172.9l3.42 -1.03M211.2 172.9l-2.07 3.06M211.2 172.9l2.07 3.06M179.4 172.3l0.00 -3.24M179.4 172.3l-3.42 -1.03M179.4 172.3l3.42 -1.03M179.4 172.3l-2.07 3.06M179.4 172.3l2.07 3.06M186.2 182.9l0.00 -3.24M186.2 182.9l-3.42 -1.03M186.2 182.9l3.42 -1.03M186.2 182.9l-2.07 3.06M186.2 182.9l2.07 3.06M200.0 181.7l0.00 -3.24M200.0 181.7l-3.42 -1.03M200.0 181.7l3.42 -1.03M200.0 181.7l-2.07 3.06M200.0 181.7l2.07 3.06M203.8 179.2l0.00 -3.24M203.8 179.2l-3.42 -1.03M203.8 179.2l3.42 -1.03M203.8 179.2l-2.07 3.06M203.8 179.2l2.07 3.06M153.8 196.7l0.00 -3.24M153.8 196.7l-3.42 -1.03M153.8 196.7l3.42 -1.03M153.8 196.7l-2.07 3.06M153.8 196.7l2.07 3.06M152.5 200.4l0.00 -3.24M152.5 200.4l-3.42 -1.03M152.5 200.4l3.42 -1.03M152.5 200.4l-2.07 3.06M152.5 200.4l2.07 3.06M175.0 192.9l0.00 -3.24M175.0 192.9l-3.42 -1.03M175.0 192.9l3.42 -1.03M175.0 192.9l-2.07 3.06M175.0 192.9l2.07 3.06M186.2 194.2l0.00 -3.24M186.2 194.2l-3.42 -1.03M186.2 194.2l3.42 -1.03M186.2 194.2l-2.07 3.06M186.2 194.2l2.07 3.06M181.2 196.7l0.00 -3.24M181.2 196.7l-3.42 -1.03M181.2 196.7l3.42 -1.03M181.2 196.7l-2.07 3.06M181.2 196.7l2.07 3.06M208.8 196.7l0.00 -3.24M208.8 196.7l-3.42 -1.03M208.8 196.7l3.42 -1.03M208.8 196.7l-2.07 3.06M208.8 196.7l2.07 3.06M212.5 199.2l0.00 -3.24M212.5 199.2l-3.42 -1.03M212.5 199.2l3.42 -1.03M212.5 199.2l-2.07 3.06M212.5 199.2l2.07 3.06M171.2 161.7l0.00 -3.24M171.2 161.7l-3.42 -1.03M171.2 161.7l3.42 -1.03M171.2 161.7l-2.07 3.06M171.2 161.7l2.07 3.06M216.2 160.4l0.00 -3.24M216.2 160.4l-3.42 -1.03M216.2 160.4l3.42 -1.03M216.2 160.4l-2.07 3.06M216.2 160.4l2.07 3.06M220.0 159.8l0.00 -3.24M220.0 159.8l-3.42 -1.03M220.0 159.8l3.42 -1.03M220.0 159.8l-2.07 3.06M220.0 159.8l2.07 3.06M235.6 167.7l0.00 -3.24M235.6 167.7l-3.42 -1.03M235.6 167.7l3.42 -1.03M235.6 167.7l-2.07 3.06M235.6 167.7l2.07 3.06M220.6 169.8l0.00 -3.24M220.6 169.8l-3.42 -1.03M220.6 169.8l3.42 -1.03M220.6 169.8l-2.07 3.06M220.6 169.8l2.07 3.06M228.8 181.0l0.00 -3.24M228.8 181.0l-3.42 -1.03M228.8 181.0l3.42 -1.03M228.8 181.0l-2.07 3.06M228.8 181.0l2.07 3.06M221.9 187.3l0.00 -3.24M221.9 187.3l-3.42 -1.03M221.9 187.3l3.42 -1.03M221.9 187.3l-2.07 3.06M221.9 187.3l2.07 3.06M223.1 192.3l0.00 -3.24M223.1 192.3l-3.42 -1.03M223.1 192.3l3.42 -1.03M223.1 192.3l-2.07 3.06M223.1 192.3l2.07 3.06M237.8 194.4l0.00 -3.24M237.8 194.4l-3.42 -1.03M237.8 194.4l3.42 -1.03M237.8 194.4l-2.07 3.06M237.8 194.4l2.07 3.06M216.2 201.7l0.00 -3.24M216.2 201.7l-3.42 -1.03M216.2 201.7l3.42 -1.03M216.2 201.7l-2.07 3.06M216.2 201.7l2.07 3.06M218.8 204.2l0.00 -3.24M218.8 204.2l-3.42 -1.03M218.8 204.2l3.42 -1.03M218.8 204.2l-2.07 3.06M218.8 204.2l2.07 3.06M118.8 199.8l0.00 -3.24M118.8 199.8l-3.42 -1.03M118.8 199.8l3.42 -1.03M118.8 199.8l-2.07 3.06M118.8 199.8l2.07 3.06M121.9 207.9l0.00 -3.24M121.9 207.9l-3.42 -1.03M121.9 207.9l3.42 -1.03M121.9 207.9l-2.07 3.06M121.9 207.9l2.07 3.06M131.2 202.9l0.00 -3.24M131.2 202.9l-3.42 -1.03M131.2 202.9l3.42 -1.03M131.2 202.9l-2.07 3.06M131.2 202.9l2.07 3.06M133.8 209.2l0.00 -3.24M133.8 209.2l-3.42 -1.03M133.8 209.2l3.42 -1.03M133.8 209.2l-2.07 3.06M133.8 209.2l2.07 3.06M131.2 211.7l0.00 -3.24M131.2 211.7l-3.42 -1.03M131.2 211.7l3.42 -1.03M131.2 211.7l-2.07 3.06M131.2 211.7l2.07 3.06M137.5 212.9l0.00 -3.24M137.5 212.9l-3.42 -1.03M137.5 212.9l3.42 -1.03M137.5 212.9l-2.07 3.06M137.5 212.9l2.07 3.06M142.5 212.9l0.00 -3.24M142.5 212.9l-3.42 -1.03M142.5 212.9l3.42 -1.03M142.5 212.9l-2.07 3.06M142.5 212.9l2.07 3.06M146.2 210.4l0.00 -3.24M146.2 210.4l-3.42 -1.03M146.2 210.4l3.42 -1.03M146.2 210.4l-2.07 3.06M146.2 210.4l2.07 3.06M140.0 220.4l0.00 -3.24M140.0 220.4l-3.42 -1.03M140.0 220.4l3.42 -1.03M140.0 220.4l-2.07 3.06M140.0 220.4l2.07 3.06M138.8 223.5l0.00 -3.24M138.8 223.5l-3.42 -1.03M138.8 223.5l3.42 -1.03M138.8 223.5l-2.07 3.06M138.8 223.5l2.07 3.06M148.8 201.7l0.00 -3.24M148.8 201.7l-3.42 -1.03M148.8 201.7l3.42 -1.03M148.8 201.7l-2.07 3.06M148.8 201.7l2.07 3.06M150.0 206.7l0.00 -3.24M150.0 206.7l-3.42 -1.03M150.0 206.7l3.42 -1.03M150.0 206.7l-2.07 3.06M150.0 206.7l2.07 3.06M161.2 207.9l0.00 -3.24M161.2 207.9l-3.42 -1.03M161.2 207.9l3.42 -1.03M161.2 207.9l-2.07 3.06M161.2 207.9l2.07 3.06M163.8 219.2l0.00 -3.24M163.8 219.2l-3.42 -1.03M163.8 219.2l3.42 -1.03M163.8 219.2l-2.07 3.06M163.8 219.2l2.07 3.06M131.2 197.9l0.00 -3.24M131.2 197.9l-3.42 -1.03M131.2 197.9l3.42 -1.03M131.2 197.9l-2.07 3.06M131.2 197.9l2.07 3.06M137.5 197.9l0.00 -3.24M137.5 197.9l-3.42 -1.03M137.5 197.9l3.42 -1.03M137.5 197.9l-2.07 3.06M137.5 197.9l2.07 3.06M216.2 206.7l0.00 -3.24M216.2 206.7l-3.42 -1.03M216.2 206.7l3.42 -1.03M216.2 206.7l-2.07 3.06M216.2 206.7l2.07 3.06M182.5 202.3l0.00 -3.24M182.5 202.3l-3.42 -1.03M182.5 202.3l3.42 -1.03M182.5 202.3l-2.07 3.06M182.5 202.3l2.07 3.06M181.2 207.9l0.00 -3.24M181.2 207.9l-3.42 -1.03M181.2 207.9l3.42 -1.03M181.2 207.9l-2.07 3.06M181.2 207.9l2.07 3.06M186.2 217.9l0.00 -3.24M186.2 217.9l-3.42 -1.03M186.2 217.9l3.42 -1.03M186.2 217.9l-2.07 3.06M186.2 217.9l2.07 3.06M167.5 219.2l0.00 -3.24M167.5 219.2l-3.42 -1.03M167.5 219.2l3.42 -1.03M167.5 219.2l-2.07 3.06M167.5 219.2l2.07 3.06M170.0 224.2l0.00 -3.24M170.0 224.2l-3.42 -1.03M170.0 224.2l3.42 -1.03M170.0 224.2l-2.07 3.06M170.0 224.2l2.07 3.06M172.5 226.7l0.00 -3.24M172.5 226.7l-3.42 -1.03M172.5 226.7l3.42 -1.03M172.5 226.7l-2.07 3.06M172.5 226.7l2.07 3.06M166.2 237.9l0.00 -3.24M166.2 237.9l-3.42 -1.03M166.2 237.9l3.42 -1.03M166.2 237.9l-2.07 3.06M166.2 237.9l2.07 3.06M212.5 214.2l0.00 -3.24M212.5 214.2l-3.42 -1.03M212.5 214.2l3.42 -1.03M212.5 214.2l-2.07 3.06M212.5 214.2l2.07 3.06M171.2 197.9l0.00 -3.24M171.2 197.9l-3.42 -1.03M171.2 197.9l3.42 -1.03M171.2 197.9l-2.07 3.06M171.2 197.9l2.07 3.06M172.6 131.0l0.00 -3.24M172.6 131.0l-3.42 -1.03M172.6 131.0l3.42 -1.03M172.6 131.0l-2.07 3.06M172.6 131.0l2.07 3.06M167.5 135.9l0.00 -3.24M167.5 135.9l-3.42 -1.03M167.5 135.9l3.42 -1.03M167.5 135.9l-2.07 3.06M167.5 135.9l2.07 3.06M171.0 139.9l0.00 -3.24M171.0 139.9l-3.42 -1.03M171.0 139.9l3.42 -1.03M171.0 139.9l-2.07 3.06M171.0 139.9l2.07 3.06M154.0 129.9l0.00 -3.24M154.0 129.9l-3.42 -1.03M154.0 129.9l3.42 -1.03M154.0 129.9l-2.07 3.06M154.0 129.9l2.07 3.06M156.0 135.4l0.00 -3.24M156.0 135.4l-3.42 -1.03M156.0 135.4l3.42 -1.03M156.0 135.4l-2.07 3.06M156.0 135.4l2.07 3.06M158.0 131.4l0.00 -3.24M158.0 131.4l-3.42 -1.03M158.0 131.4l3.42 -1.03M158.0 131.4l-2.07 3.06M158.0 131.4l2.07 3.06M175.0 121.4l0.00 -3.24M175.0 121.4l-3.42 -1.03M175.0 121.4l3.42 -1.03M175.0 121.4l-2.07 3.06M175.0 121.4l2.07 3.06M178.0 127.4l0.00 -3.24M178.0 127.4l-3.42 -1.03M178.0 127.4l3.42 -1.03M178.0 127.4l-2.07 3.06M178.0 127.4l2.07 3.06M150.0 143.4l0.00 -3.24M150.0 143.4l-3.42 -1.03M150.0 143.4l3.42 -1.03M150.0 143.4l-2.07 3.06M150.0 143.4l2.07 3.06M147.0 147.4l0.00 -3.24M147.0 147.4l-3.42 -1.03M147.0 147.4l3.42 -1.03M147.0 147.4l-2.07 3.06M147.0 147.4l2.07 3.06M232.5 212.9l0.00 -3.24M232.5 212.9l-3.42 -1.03M232.5 212.9l3.42 -1.03M232.5 212.9l-2.07 3.06M232.5 212.9l2.07 3.06M252.5 215.4l0.00 -3.24M252.5 215.4l-3.42 -1.03M252.5 215.4l3.42 -1.03M252.5 215.4l-2.07 3.06M252.5 215.4l2.07 3.06M271.9 215.4l0.00 -3.24M271.9 215.4l-3.42 -1.03M271.9 215.4l3.42 -1.03M271.9 215.4l-2.07 3.06M271.9 215.4l2.07 3.06M244.4 223.5l0.00 -3.24M244.4 223.5l-3.42 -1.03M244.4 223.5l3.42 -1.03M244.4 223.5l-2.07 3.06M244.4 223.5l2.07 3.06M230.0 229.2l0.00 -3.24M230.0 229.2l-3.42 -1.03M230.0 229.2l3.42 -1.03M230.0 229.2l-2.07 3.06M230.0 229.2l2.07 3.06M216.2 266.0l0.00 -3.24M216.2 266.0l-3.42 -1.03M216.2 266.0l3.42 -1.03M216.2 266.0l-2.07 3.06M216.2 266.0l2.07 3.06M131.3 100.2l0.00 -3.24M131.3 100.2l-3.42 -1.03M131.3 100.2l3.42 -1.03M131.3 100.2l-2.07 3.06M131.3 100.2l2.07 3.06M149.8 142.3l0.00 -3.24M149.8 142.3l-3.42 -1.03M149.8 142.3l3.42 -1.03M149.8 142.3l-2.07 3.06M149.8 142.3l2.07 3.06M141.8 142.9l0.00 -3.24M141.8 142.9l-3.42 -1.03M141.8 142.9l3.42 -1.03M141.8 142.9l-2.07 3.06M141.8 142.9l2.07 3.06M132.0 109.1l0.00 -3.24M132.0 109.1l-3.42 -1.03M132.0 109.1l3.42 -1.03M132.0 109.1l-2.07 3.06M132.0 109.1l2.07 3.06M131.7 183.7l0.00 -3.24M131.7 183.7l-3.42 -1.03M131.7 183.7l3.42 -1.03M131.7 183.7l-2.07 3.06M131.7 183.7l2.07 3.06M126.2 170.5l0.00 -3.24M126.2 170.5l-3.42 -1.03M126.2 170.5l3.42 -1.03M126.2 170.5l-2.07 3.06M126.2 170.5l2.07 3.06M106.8 116.0l0.00 -3.24M106.8 116.0l-3.42 -1.03M106.8 116.0l3.42 -1.03M106.8 116.0l-2.07 3.06M106.8 116.0l2.07 3.06M125.4 133.5l0.00 -3.24M125.4 133.5l-3.42 -1.03M125.4 133.5l3.42 -1.03M125.4 133.5l-2.07 3.06M125.4 133.5l2.07 3.06M129.2 187.4l0.00 -3.24M129.2 187.4l-3.42 -1.03M129.2 187.4l3.42 -1.03M129.2 187.4l-2.07 3.06M129.2 187.4l2.07 3.06M135.7 115.4l0.00 -3.24M135.7 115.4l-3.42 -1.03M135.7 115.4l3.42 -1.03M135.7 115.4l-2.07 3.06M135.7 115.4l2.07 3.06M141.6 153.0l0.00 -3.24M141.6 153.0l-3.42 -1.03M141.6 153.0l3.42 -1.03M141.6 153.0l-2.07 3.06M141.6 153.0l2.07 3.06M114.2 100.0l0.00 -3.24M114.2 100.0l-3.42 -1.03M114.2 100.0l3.42 -1.03M114.2 100.0l-2.07 3.06M114.2 100.0l2.07 3.06M143.6 98.0l0.00 -3.24M143.6 98.0l-3.42 -1.03M143.6 98.0l3.42 -1.03M143.6 98.0l-2.07 3.06M143.6 98.0l2.07 3.06M130.0 96.7l0.00 -3.24M130.0 96.7l-3.42 -1.03M130.0 96.7l3.42 -1.03M130.0 96.7l-2.07 3.06M130.0 96.7l2.07 3.06M109.9 135.8l0.00 -3.24M109.9 135.8l-3.42 -1.03M109.9 135.8l3.42 -1.03M109.9 135.8l-2.07 3.06M109.9 135.8l2.07 3.06M123.0 147.5l0.00 -3.24M123.0 147.5l-3.42 -1.03M123.0 147.5l3.42 -1.03M123.0 147.5l-2.07 3.06M123.0 147.5l2.07 3.06M132.2 155.3l0.00 -3.24M132.2 155.3l-3.42 -1.03M132.2 155.3l3.42 -1.03M132.2 155.3l-2.07 3.06M132.2 155.3l2.07 3.06M128.0 157.9l0.00 -3.24M128.0 157.9l-3.42 -1.03M128.0 157.9l3.42 -1.03M128.0 157.9l-2.07 3.06M128.0 157.9l2.07 3.06M147.0 146.1l0.00 -3.24M147.0 146.1l-3.42 -1.03M147.0 146.1l3.42 -1.03M147.0 146.1l-2.07 3.06M147.0 146.1l2.07 3.06M111.9 124.7l0.00 -3.24M111.9 124.7l-3.42 -1.03M111.9 124.7l3.42 -1.03M111.9 124.7l-2.07 3.06M111.9 124.7l2.07 3.06M127.4 94.6l0.00 -3.24M127.4 94.6l-3.42 -1.03M127.4 94.6l3.42 -1.03M127.4 94.6l-2.07 3.06M127.4 94.6l2.07 3.06M112.6 140.9l0.00 -3.24M112.6 140.9l-3.42 -1.03M112.6 140.9l3.42 -1.03M112.6 140.9l-2.07 3.06M112.6 140.9l2.07 3.06M118.2 125.9l0.00 -3.24M118.2 125.9l-3.42 -1.03M118.2 125.9l3.42 -1.03M118.2 125.9l-2.07 3.06M118.2 125.9l2.07 3.06M138.6 96.2l0.00 -3.24M138.6 96.2l-3.42 -1.03M138.6 96.2l3.42 -1.03M138.6 96.2l-2.07 3.06M138.6 96.2l2.07 3.06M140.2 118.2l0.00 -3.24M140.2 118.2l-3.42 -1.03M140.2 118.2l3.42 -1.03M140.2 118.2l-2.07 3.06M140.2 118.2l2.07 3.06M141.7 139.0l0.00 -3.24M141.7 139.0l-3.42 -1.03M141.7 139.0l3.42 -1.03M141.7 139.0l-2.07 3.06M141.7 139.0l2.07 3.06M116.8 161.0l0.00 -3.24M116.8 161.0l-3.42 -1.03M116.8 161.0l3.42 -1.03M116.8 161.0l-2.07 3.06M116.8 161.0l2.07 3.06M140.3 180.6l0.00 -3.24M140.3 180.6l-3.42 -1.03M140.3 180.6l3.42 -1.03M140.3 180.6l-2.07 3.06M140.3 180.6l2.07 3.06M109.2 122.4l0.00 -3.24M109.2 122.4l-3.42 -1.03M109.2 122.4l3.42 -1.03M109.2 122.4l-2.07 3.06M109.2 122.4l2.07 3.06M140.3 129.3l0.00 -3.24M140.3 129.3l-3.42 -1.03M140.3 129.3l3.42 -1.03M140.3 129.3l-2.07 3.06M140.3 129.3l2.07 3.06M121.0 136.0l0.00 -3.24M121.0 136.0l-3.42 -1.03M121.0 136.0l3.42 -1.03M121.0 136.0l-2.07 3.06M121.0 136.0l2.07 3.06M133.1 147.4l0.00 -3.24M133.1 147.4l-3.42 -1.03M133.1 147.4l3.42 -1.03M133.1 147.4l-2.07 3.06M133.1 147.4l2.07 3.06M114.5 128.9l0.00 -3.24M114.5 128.9l-3.42 -1.03M114.5 128.9l3.42 -1.03M114.5 128.9l-2.07 3.06M114.5 128.9l2.07 3.06M129.4 123.2l0.00 -3.24M129.4 123.2l-3.42 -1.03M129.4 123.2l3.42 -1.03M129.4 123.2l-2.07 3.06M129.4 123.2l2.07 3.06M117.6 113.9l0.00 -3.24M117.6 113.9l-3.42 -1.03M117.6 113.9l3.42 -1.03M117.6 113.9l-2.07 3.06M117.6 113.9l2.07 3.06M121.1 142.6l0.00 -3.24M121.1 142.6l-3.42 -1.03M121.1 142.6l3.42 -1.03M121.1 142.6l-2.07 3.06M121.1 142.6l2.07 3.06M148.7 182.3l0.00 -3.24M148.7 182.3l-3.42 -1.03M148.7 182.3l3.42 -1.03M148.7 182.3l-2.07 3.06M148.7 182.3l2.07 3.06M129.3 130.9l0.00 -3.24M129.3 130.9l-3.42 -1.03M129.3 130.9l3.42 -1.03M129.3 130.9l-2.07 3.06M129.3 130.9l2.07 3.06M135.8 132.9l0.00 -3.24M135.8 132.9l-3.42 -1.03M135.8 132.9l3.42 -1.03M135.8 132.9l-2.07 3.06M135.8 132.9l2.07 3.06M140.1 158.2l0.00 -3.24M140.1 158.2l-3.42 -1.03M140.1 158.2l3.42 -1.03M140.1 158.2l-2.07 3.06M140.1 158.2l2.07 3.06M121.6 132.1l0.00 -3.24M121.6 132.1l-3.42 -1.03M121.6 132.1l3.42 -1.03M121.6 132.1l-2.07 3.06M121.6 132.1l2.07 3.06M146.8 132.3l0.00 -3.24M146.8 132.3l-3.42 -1.03M146.8 132.3l3.42 -1.03M146.8 132.3l-2.07 3.06M146.8 132.3l2.07 3.06M133.7 180.4l0.00 -3.24M133.7 180.4l-3.42 -1.03M133.7 180.4l3.42 -1.03M133.7 180.4l-2.07 3.06M133.7 180.4l2.07 3.06M138.4 146.6l0.00 -3.24M138.4 146.6l-3.42 -1.03M138.4 146.6l3.42 -1.03M138.4 146.6l-2.07 3.06M138.4 146.6l2.07 3.06M112.1 112.1l0.00 -3.24M112.1 112.1l-3.42 -1.03M112.1 112.1l3.42 -1.03M112.1 112.1l-2.07 3.06M112.1 112.1l2.07 3.06M137.4 110.1l0.00 -3.24M137.4 110.1l-3.42 -1.03M137.4 110.1l3.42 -1.03M137.4 110.1l-2.07 3.06M137.4 110.1l2.07 3.06M110.9 95.8l0.00 -3.24M110.9 95.8l-3.42 -1.03M110.9 95.8l3.42 -1.03M110.9 95.8l-2.07 3.06M110.9 95.8l2.07 3.06M124.0 155.7l0.00 -3.24M124.0 155.7l-3.42 -1.03M124.0 155.7l3.42 -1.03M124.0 155.7l-2.07 3.06M124.0 155.7l2.07 3.06M123.4 117.3l0.00 -3.24M123.4 117.3l-3.42 -1.03M123.4 117.3l3.42 -1.03M123.4 117.3l-2.07 3.06M123.4 117.3l2.07 3.06M132.7 177.2l0.00 -3.24M132.7 177.2l-3.42 -1.03M132.7 177.2l3.42 -1.03M132.7 177.2l-2.07 3.06M132.7 177.2l2.07 3.06M148.1 163.4l0.00 -3.24M148.1 163.4l-3.42 -1.03M148.1 163.4l3.42 -1.03M148.1 163.4l-2.07 3.06M148.1 163.4l2.07 3.06M135.9 164.0l0.00 -3.24M135.9 164.0l-3.42 -1.03M135.9 164.0l3.42 -1.03M135.9 164.0l-2.07 3.06M135.9 164.0l2.07 3.06M132.3 159.0l0.00 -3.24M132.3 159.0l-3.42 -1.03M132.3 159.0l3.42 -1.03M132.3 159.0l-2.07 3.06M132.3 159.0l2.07 3.06M116.6 168.3l0.00 -3.24M116.6 168.3l-3.42 -1.03M116.6 168.3l3.42 -1.03M116.6 168.3l-2.07 3.06M116.6 168.3l2.07 3.06M129.9 151.1l0.00 -3.24M129.9 151.1l-3.42 -1.03M129.9 151.1l3.42 -1.03M129.9 151.1l-2.07 3.06M129.9 151.1l2.07 3.06M137.7 149.9l0.00 -3.24M137.7 149.9l-3.42 -1.03M137.7 149.9l3.42 -1.03M137.7 149.9l-2.07 3.06M137.7 149.9l2.07 3.06M126.4 152.5l0.00 -3.24M126.4 152.5l-3.42 -1.03M126.4 152.5l3.42 -1.03M126.4 152.5l-2.07 3.06M126.4 152.5l2.07 3.06M130.1 169.0l0.00 -3.24M130.1 169.0l-3.42 -1.03M130.1 169.0l3.42 -1.03M130.1 169.0l-2.07 3.06M130.1 169.0l2.07 3.06M126.2 141.3l0.00 -3.24M126.2 141.3l-3.42 -1.03M126.2 141.3l3.42 -1.03M126.2 141.3l-2.07 3.06M126.2 141.3l2.07 3.06M126.9 190.1l0.00 -3.24M126.9 190.1l-3.42 -1.03M126.9 190.1l3.42 -1.03M126.9 190.1l-2.07 3.06M126.9 190.1l2.07 3.06M146.3 167.9l0.00 -3.24M146.3 167.9l-3.42 -1.03M146.3 167.9l3.42 -1.03M146.3 167.9l-2.07 3.06M146.3 167.9l2.07 3.06M137.0 129.1l0.00 -3.24M137.0 129.1l-3.42 -1.03M137.0 129.1l3.42 -1.03M137.0 129.1l-2.07 3.06M137.0 129.1l2.07 3.06M129.8 116.7l0.00 -3.24M129.8 116.7l-3.42 -1.03M129.8 116.7l3.42 -1.03M129.8 116.7l-2.07 3.06M129.8 116.7l2.07 3.06M123.0 113.7l0.00 -3.24M123.0 113.7l-3.42 -1.03M123.0 113.7l3.42 -1.03M123.0 113.7l-2.07 3.06M123.0 113.7l2.07 3.06M136.4 122.0l0.00 -3.24M136.4 122.0l-3.42 -1.03M136.4 122.0l3.42 -1.03M136.4 122.0l-2.07 3.06M136.4 122.0l2.07 3.06M146.6 124.7l0.00 -3.24M146.6 124.7l-3.42 -1.03M146.6 124.7l3.42 -1.03M146.6 124.7l-2.07 3.06M146.6 124.7l2.07 3.06M117.2 103.1l0.00 -3.24M117.2 103.1l-3.42 -1.03M117.2 103.1l3.42 -1.03M117.2 103.1l-2.07 3.06M117.2 103.1l2.07 3.06M145.0 114.3l0.00 -3.24M145.0 114.3l-3.42 -1.03M145.0 114.3l3.42 -1.03M145.0 114.3l-2.07 3.06M145.0 114.3l2.07 3.06M147.0 97.0l0.00 -3.24M147.0 97.0l-3.42 -1.03M147.0 97.0l3.42 -1.03M147.0 97.0l-2.07 3.06M147.0 97.0l2.07 3.06M124.4 109.4l0.00 -3.24M124.4 109.4l-3.42 -1.03M124.4 109.4l3.42 -1.03M124.4 109.4l-2.07 3.06M124.4 109.4l2.07 3.06M122.3 104.9l0.00 -3.24M122.3 104.9l-3.42 -1.03M122.3 104.9l3.42 -1.03M122.3 104.9l-2.07 3.06M122.3 104.9l2.07 3.06M136.8 137.4l0.00 -3.24M136.8 137.4l-3.42 -1.03M136.8 137.4l3.42 -1.03M136.8 137.4l-2.07 3.06M136.8 137.4l2.07 3.06M149.8 128.3l0.00 -3.24M149.8 128.3l-3.42 -1.03M149.8 128.3l3.42 -1.03M149.8 128.3l-2.07 3.06M149.8 128.3l2.07 3.06M126.8 136.9l0.00 -3.24M126.8 136.9l-3.42 -1.03M126.8 136.9l3.42 -1.03M126.8 136.9l-2.07 3.06M126.8 136.9l2.07 3.06M120.6 101.5l0.00 -3.24M120.6 101.5l-3.42 -1.03M120.6 101.5l3.42 -1.03M120.6 101.5l-2.07 3.06M120.6 101.5l2.07 3.06M149.0 175.1l0.00 -3.24M149.0 175.1l-3.42 -1.03M149.0 175.1l3.42 -1.03M149.0 175.1l-2.07 3.06M149.0 175.1l2.07 3.06M137.9 175.5l0.00 -3.24M137.9 175.5l-3.42 -1.03M137.9 175.5l3.42 -1.03M137.9 175.5l-2.07 3.06M137.9 175.5l2.07 3.06M108.5 112.4l0.00 -3.24M108.5 112.4l-3.42 -1.03M108.5 112.4l3.42 -1.03M108.5 112.4l-2.07 3.06M108.5 112.4l2.07 3.06M132.2 113.7l0.00 -3.24M132.2 113.7l-3.42 -1.03M132.2 113.7l3.42 -1.03M132.2 113.7l-2.07 3.06M132.2 113.7l2.07 3.06M142.4 174.3l0.00 -3.24M142.4 174.3l-3.42 -1.03M142.4 174.3l3.42 -1.03M142.4 174.3l-2.07 3.06M142.4 174.3l2.07 3.06M111.0 132.0l0.00 -3.24M111.0 132.0l-3.42 -1.03M111.0 132.0l3.42 -1.03M111.0 132.0l-2.07 3.06M111.0 132.0l2.07 3.06M143.4 147.0l0.00 -3.24M143.4 147.0l-3.42 -1.03M143.4 147.0l3.42 -1.03M143.4 147.0l-2.07 3.06M143.4 147.0l2.07 3.06M148.1 112.8l0.00 -3.24M148.1 112.8l-3.42 -1.03M148.1 112.8l3.42 -1.03M148.1 112.8l-2.07 3.06M148.1 112.8l2.07 3.06M119.4 98.2l0.00 -3.24M119.4 98.2l-3.42 -1.03M119.4 98.2l3.42 -1.03M119.4 98.2l-2.07 3.06M119.4 98.2l2.07 3.06M135.0 93.6l0.00 -3.24M135.0 93.6l-3.42 -1.03M135.0 93.6l3.42 -1.03M135.0 93.6l-2.07 3.06M135.0 93.6l2.07 3.06M129.7 191.9l0.00 -3.24M129.7 191.9l-3.42 -1.03M129.7 191.9l3.42 -1.03M129.7 191.9l-2.07 3.06M129.7 191.9l2.07 3.06M145.1 128.0l0.00 -3.24M145.1 128.0l-3.42 -1.03M145.1 128.0l3.42 -1.03M145.1 128.0l-2.07 3.06M145.1 128.0l2.07 3.06M145.2 121.0l0.00 -3.24M145.2 121.0l-3.42 -1.03M145.2 121.0l3.42 -1.03M145.2 121.0l-2.07 3.06M145.2 121.0l2.07 3.06M131.0 173.1l0.00 -3.24M131.0 173.1l-3.42 -1.03M131.0 173.1l3.42 -1.03M131.0 173.1l-2.07 3.06M131.0 173.1l2.07 3.06M118.5 130.4l0.00 -3.24M118.5 130.4l-3.42 -1.03M118.5 130.4l3.42 -1.03M118.5 130.4l-2.07 3.06M118.5 130.4l2.07 3.06M144.1 93.4l0.00 -3.24M144.1 93.4l-3.42 -1.03M144.1 93.4l3.42 -1.03M144.1 93.4l-2.07 3.06M144.1 93.4l2.07 3.06M129.4 140.1l0.00 -3.24M129.4 140.1l-3.42 -1.03M129.4 140.1l3.42 -1.03M129.4 140.1l-2.07 3.06M129.4 140.1l2.07 3.06M127.8 184.4l0.00 -3.24M127.8 184.4l-3.42 -1.03M127.8 184.4l3.42 -1.03M127.8 184.4l-2.07 3.06M127.8 184.4l2.07 3.06M148.5 153.4l0.00 -3.24M148.5 153.4l-3.42 -1.03M148.5 153.4l3.42 -1.03M148.5 153.4l-2.07 3.06M148.5 153.4l2.07 3.06M140.6 108.3l0.00 -3.24M140.6 108.3l-3.42 -1.03M140.6 108.3l3.42 -1.03M140.6 108.3l-2.07 3.06M140.6 108.3l2.07 3.06M149.3 148.9l0.00 -3.24M149.3 148.9l-3.42 -1.03M149.3 148.9l3.42 -1.03M149.3 148.9l-2.07 3.06M149.3 148.9l2.07 3.06M139.5 125.0l0.00 -3.24M139.5 125.0l-3.42 -1.03M139.5 125.0l3.42 -1.03M139.5 125.0l-2.07 3.06M139.5 125.0l2.07 3.06M118.7 163.8l0.00 -3.24M118.7 163.8l-3.42 -1.03M118.7 163.8l3.42 -1.03M118.7 163.8l-2.07 3.06M118.7 163.8l2.07 3.06M132.9 120.0l0.00 -3.24M132.9 120.0l-3.42 -1.03M132.9 120.0l3.42 -1.03M132.9 120.0l-2.07 3.06M132.9 120.0l2.07 3.06M142.8 125.0l0.00 -3.24M142.8 125.0l-3.42 -1.03M142.8 125.0l3.42 -1.03M142.8 125.0l-2.07 3.06M142.8 125.0l2.07 3.06M145.2 158.5l0.00 -3.24M145.2 158.5l-3.42 -1.03M145.2 158.5l3.42 -1.03M145.2 158.5l-2.07 3.06M145.2 158.5l2.07 3.06M132.6 166.2l0.00 -3.24M132.6 166.2l-3.42 -1.03M132.6 166.2l3.42 -1.03M132.6 166.2l-2.07 3.06M132.6 166.2l2.07 3.06M149.6 178.7l0.00 -3.24M149.6 178.7l-3.42 -1.03M149.6 178.7l3.42 -1.03M149.6 178.7l-2.07 3.06M149.6 178.7l2.07 3.06M129.6 181.1l0.00 -3.24M129.6 181.1l-3.42 -1.03M129.6 181.1l3.42 -1.03M129.6 181.1l-2.07 3.06M129.6 181.1l2.07 3.06M132.0 196.8l0.00 -3.24M132.0 196.8l-3.42 -1.03M132.0 196.8l3.42 -1.03M132.0 196.8l-2.07 3.06M132.0 196.8l2.07 3.06M117.6 140.3l0.00 -3.24M117.6 140.3l-3.42 -1.03M117.6 140.3l3.42 -1.03M117.6 140.3l-2.07 3.06M117.6 140.3l2.07 3.06M125.6 145.0l0.00 -3.24M125.6 145.0l-3.42 -1.03M125.6 145.0l3.42 -1.03M125.6 145.0l-2.07 3.06M125.6 145.0l2.07 3.06M119.8 175.3l0.00 -3.24M119.8 175.3l-3.42 -1.03M119.8 175.3l3.42 -1.03M119.8 175.3l-2.07 3.06M119.8 175.3l2.07 3.06M123.9 159.0l0.00 -3.24M123.9 159.0l-3.42 -1.03M123.9 159.0l3.42 -1.03M123.9 159.0l-2.07 3.06M123.9 159.0l2.07 3.06M132.9 186.8l0.00 -3.24M132.9 186.8l-3.42 -1.03M132.9 186.8l3.42 -1.03M132.9 186.8l-2.07 3.06M132.9 186.8l2.07 3.06M113.5 106.8l0.00 -3.24M113.5 106.8l-3.42 -1.03M113.5 106.8l3.42 -1.03M113.5 106.8l-2.07 3.06M113.5 106.8l2.07 3.06M148.7 158.6l0.00 -3.24M148.7 158.6l-3.42 -1.03M148.7 158.6l3.42 -1.03M148.7 158.6l-2.07 3.06M148.7 158.6l2.07 3.06M149.8 166.5l0.00 -3.24M149.8 166.5l-3.42 -1.03M149.8 166.5l3.42 -1.03M149.8 166.5l-2.07 3.06M149.8 166.5l2.07 3.06M113.8 137.7l0.00 -3.24M113.8 137.7l-3.42 -1.03M113.8 137.7l3.42 -1.03M113.8 137.7l-2.07 3.06M113.8 137.7l2.07 3.06M108.3 108.4l0.00 -3.24M108.3 108.4l-3.42 -1.03M108.3 108.4l3.42 -1.03M108.3 108.4l-2.07 3.06M108.3 108.4l2.07 3.06M121.5 95.1l0.00 -3.24M121.5 95.1l-3.42 -1.03M121.5 95.1l3.42 -1.03M121.5 95.1l-2.07 3.06M121.5 95.1l2.07 3.06M136.3 159.0l0.00 -3.24M136.3 159.0l-3.42 -1.03M136.3 159.0l3.42 -1.03M136.3 159.0l-2.07 3.06M136.3 159.0l2.07 3.06M123.7 165.7l0.00 -3.24M123.7 165.7l-3.42 -1.03M123.7 165.7l3.42 -1.03M123.7 165.7l-2.07 3.06M123.7 165.7l2.07 3.06M127.1 125.7l0.00 -3.24M127.1 125.7l-3.42 -1.03M127.1 125.7l3.42 -1.03M127.1 125.7l-2.07 3.06M127.1 125.7l2.07 3.06M135.0 173.9l0.00 -3.24M135.0 173.9l-3.42 -1.03M135.0 173.9l3.42 -1.03M135.0 173.9l-2.07 3.06M135.0 173.9l2.07 3.06M109.1 118.6l0.00 -3.24M109.1 118.6l-3.42 -1.03M109.1 118.6l3.42 -1.03M109.1 118.6l-2.07 3.06M109.1 118.6l2.07 3.06M149.1 93.7l0.00 -3.24M149.1 93.7l-3.42 -1.03M149.1 93.7l3.42 -1.03M149.1 93.7l-2.07 3.06M149.1 93.7l2.07 3.06M143.5 183.9l0.00 -3.24M143.5 183.9l-3.42 -1.03M143.5 183.9l3.42 -1.03M143.5 183.9l-2.07 3.06M143.5 183.9l2.07 3.06M130.4 104.1l0.00 -3.24M130.4 104.1l-3.42 -1.03M130.4 104.1l3.42 -1.03M130.4 104.1l-2.07 3.06M130.4 104.1l2.07 3.06M131.6 93.8l0.00 -3.24M131.6 93.8l-3.42 -1.03M131.6 93.8l3.42 -1.03M131.6 93.8l-2.07 3.06M131.6 93.8l2.07 3.06M123.0 151.1l0.00 -3.24M123.0 151.1l-3.42 -1.03M123.0 151.1l3.42 -1.03M123.0 151.1l-2.07 3.06M123.0 151.1l2.07 3.06M115.0 150.2l0.00 -3.24M115.0 150.2l-3.42 -1.03M115.0 150.2l3.42 -1.03M115.0 150.2l-2.07 3.06M115.0 150.2l2.07 3.06M119.7 122.9l0.00 -3.24M119.7 122.9l-3.42 -1.03M119.7 122.9l3.42 -1.03M119.7 122.9l-2.07 3.06M119.7 122.9l2.07 3.06M133.1 170.4l0.00 -3.24M133.1 170.4l-3.42 -1.03M133.1 170.4l3.42 -1.03M133.1 170.4l-2.07 3.06M133.1 170.4l2.07 3.06M114.2 114.6l0.00 -3.24M114.2 114.6l-3.42 -1.03M114.2 114.6l3.42 -1.03M114.2 114.6l-2.07 3.06M114.2 114.6l2.07 3.06M133.3 97.4l0.00 -3.24M133.3 97.4l-3.42 -1.03M133.3 97.4l3.42 -1.03M133.3 97.4l-2.07 3.06M133.3 97.4l2.07 3.06M110.2 143.3l0.00 -3.24M110.2 143.3l-3.42 -1.03M110.2 143.3l3.42 -1.03M110.2 143.3l-2.07 3.06M110.2 143.3l2.07 3.06M143.4 117.5l0.00 -3.24M143.4 117.5l-3.42 -1.03M143.4 117.5l3.42 -1.03M143.4 117.5l-2.07 3.06M143.4 117.5l2.07 3.06M149.1 122.4l0.00 -3.24M149.1 122.4l-3.42 -1.03M149.1 122.4l3.42 -1.03M149.1 122.4l-2.07 3.06M149.1 122.4l2.07 3.06M109.6 139.3l0.00 -3.24M109.6 139.3l-3.42 -1.03M109.6 139.3l3.42 -1.03M109.6 139.3l-2.07 3.06M109.6 139.3l2.07 3.06M136.9 179.1l0.00 -3.24M136.9 179.1l-3.42 -1.03M136.9 179.1l3.42 -1.03M136.9 179.1l-2.07 3.06M136.9 179.1l2.07 3.06M141.6 167.2l0.00 -3.24M141.6 167.2l-3.42 -1.03M141.6 167.2l3.42 -1.03M141.6 167.2l-2.07 3.06M141.6 167.2l2.07 3.06M128.7 195.6l0.00 -3.24M128.7 195.6l-3.42 -1.03M128.7 195.6l3.42 -1.03M128.7 195.6l-2.07 3.06M128.7 195.6l2.07 3.06M136.7 118.6l0.00 -3.24M136.7 118.6l-3.42 -1.03M136.7 118.6l3.42 -1.03M136.7 118.6l-2.07 3.06M136.7 118.6l2.07 3.06M132.8 162.7l0.00 -3.24M132.8 162.7l-3.42 -1.03M132.8 162.7l3.42 -1.03M132.8 162.7l-2.07 3.06M132.8 162.7l2.07 3.06M166.5 169.1l0.00 -3.24M166.5 169.1l-3.42 -1.03M166.5 169.1l3.42 -1.03M166.5 169.1l-2.07 3.06M166.5 169.1l2.07 3.06M170.5 174.9l0.00 -3.24M170.5 174.9l-3.42 -1.03M170.5 174.9l3.42 -1.03M170.5 174.9l-2.07 3.06M170.5 174.9l2.07 3.06M171.5 145.6l0.00 -3.24M171.5 145.6l-3.42 -1.03M171.5 145.6l3.42 -1.03M171.5 145.6l-2.07 3.06M171.5 145.6l2.07 3.06M160.5 135.9l0.00 -3.24M160.5 135.9l-3.42 -1.03M160.5 135.9l3.42 -1.03M160.5 135.9l-2.07 3.06M160.5 135.9l2.07 3.06M153.4 153.6l0.00 -3.24M153.4 153.6l-3.42 -1.03M153.4 153.6l3.42 -1.03M153.4 153.6l-2.07 3.06M153.4 153.6l2.07 3.06M167.9 122.5l0.00 -3.24M167.9 122.5l-3.42 -1.03M167.9 122.5l3.42 -1.03M167.9 122.5l-2.07 3.06M167.9 122.5l2.07 3.06M158.1 174.7l0.00 -3.24M158.1 174.7l-3.42 -1.03M158.1 174.7l3.42 -1.03M158.1 174.7l-2.07 3.06M158.1 174.7l2.07 3.06M164.2 144.2l0.00 -3.24M164.2 144.2l-3.42 -1.03M164.2 144.2l3.42 -1.03M164.2 144.2l-2.07 3.06M164.2 144.2l2.07 3.06M162.1 177.8l0.00 -3.24M162.1 177.8l-3.42 -1.03M162.1 177.8l3.42 -1.03M162.1 177.8l-2.07 3.06M162.1 177.8l2.07 3.06M155.4 121.4l0.00 -3.24M155.4 121.4l-3.42 -1.03M155.4 121.4l3.42 -1.03M155.4 121.4l-2.07 3.06M155.4 121.4l2.07 3.06M170.6 166.1l0.00 -3.24M170.6 166.1l-3.42 -1.03M170.6 166.1l3.42 -1.03M170.6 166.1l-2.07 3.06M170.6 166.1l2.07 3.06M162.6 148.4l0.00 -3.24M162.6 148.4l-3.42 -1.03M162.6 148.4l3.42 -1.03M162.6 148.4l-2.07 3.06M162.6 148.4l2.07 3.06M156.3 163.0l0.00 -3.24M156.3 163.0l-3.42 -1.03M156.3 163.0l3.42 -1.03M156.3 163.0l-2.07 3.06M156.3 163.0l2.07 3.06M166.0 118.5l0.00 -3.24M166.0 118.5l-3.42 -1.03M166.0 118.5l3.42 -1.03M166.0 118.5l-2.07 3.06M166.0 118.5l2.07 3.06M171.9 155.7l0.00 -3.24M171.9 155.7l-3.42 -1.03M171.9 155.7l3.42 -1.03M171.9 155.7l-2.07 3.06M171.9 155.7l2.07 3.06M160.9 165.3l0.00 -3.24M160.9 165.3l-3.42 -1.03M160.9 165.3l3.42 -1.03M160.9 165.3l-2.07 3.06M160.9 165.3l2.07 3.06M151.6 171.7l0.00 -3.24M151.6 171.7l-3.42 -1.03M151.6 171.7l3.42 -1.03M151.6 171.7l-2.07 3.06M151.6 171.7l2.07 3.06M158.1 139.9l0.00 -3.24M158.1 139.9l-3.42 -1.03M158.1 139.9l3.42 -1.03M158.1 139.9l-2.07 3.06M158.1 139.9l2.07 3.06M154.7 187.5l0.00 -3.24M154.7 187.5l-3.42 -1.03M154.7 187.5l3.42 -1.03M154.7 187.5l-2.07 3.06M154.7 187.5l2.07 3.06M158.3 194.3l0.00 -3.24M158.3 194.3l-3.42 -1.03M158.3 194.3l3.42 -1.03M158.3 194.3l-2.07 3.06M158.3 194.3l2.07 3.06M127.0 205.2l0.00 -3.24M127.0 205.2l-3.42 -1.03M127.0 205.2l3.42 -1.03M127.0 205.2l-2.07 3.06M127.0 205.2l2.07 3.06M154.2 204.8l0.00 -3.24M154.2 204.8l-3.42 -1.03M154.2 204.8l3.42 -1.03M154.2 204.8l-2.07 3.06M154.2 204.8l2.07 3.06M146.0 205.2l0.00 -3.24M146.0 205.2l-3.42 -1.03M146.0 205.2l3.42 -1.03M146.0 205.2l-2.07 3.06M146.0 205.2l2.07 3.06M135.0 201.1l0.00 -3.24M135.0 201.1l-3.42 -1.03M135.0 201.1l3.42 -1.03M135.0 201.1l-2.07 3.06M135.0 201.1l2.07 3.06M135.0 205.4l0.00 -3.24M135.0 205.4l-3.42 -1.03M135.0 205.4l3.42 -1.03M135.0 205.4l-2.07 3.06M135.0 205.4l2.07 3.06M146.5 196.2l0.00 -3.24M146.5 196.2l-3.42 -1.03M146.5 196.2l3.42 -1.03M146.5 196.2l-2.07 3.06M146.5 196.2l2.07 3.06" fill="none" stroke="#68b845" stroke-width="2.1" stroke-linecap="round"/>
<path d="M214.4 224.8l0.00 -3.24M214.4 224.8l-3.42 -1.03M214.4 224.8l3.42 -1.03M214.4 224.8l-2.07 3.06M214.4 224.8l2.07 3.06M223.1 234.2l0.00 -3.24M223.1 234.2l-3.42 -1.03M223.1 234.2l3.42 -1.03M223.1 234.2l-2.07 3.06M223.1 234.2l2.07 3.06M198.8 243.5l0.00 -3.24M198.8 243.5l-3.42 -1.03M198.8 243.5l3.42 -1.03M198.8 243.5l-2.07 3.06M198.8 243.5l2.07 3.06M227.5 247.9l0.00 -3.24M227.5 247.9l-3.42 -1.03M227.5 247.9l3.42 -1.03M227.5 247.9l-2.07 3.06M227.5 247.9l2.07 3.06M212.5 254.8l0.00 -3.24M212.5 254.8l-3.42 -1.03M212.5 254.8l3.42 -1.03M212.5 254.8l-2.07 3.06M212.5 254.8l2.07 3.06M191.9 256.0l0.00 -3.24M191.9 256.0l-3.42 -1.03M191.9 256.0l3.42 -1.03M191.9 256.0l-2.07 3.06M191.9 256.0l2.07 3.06M213.1 257.3l0.00 -3.24M213.1 257.3l-3.42 -1.03M213.1 257.3l3.42 -1.03M213.1 257.3l-2.07 3.06M213.1 257.3l2.07 3.06M222.5 266.0l0.00 -3.24M222.5 266.0l-3.42 -1.03M222.5 266.0l3.42 -1.03M222.5 266.0l-2.07 3.06M222.5 266.0l2.07 3.06M220.0 277.3l0.00 -3.24M220.0 277.3l-3.42 -1.03M220.0 277.3l3.42 -1.03M220.0 277.3l-2.07 3.06M220.0 277.3l2.07 3.06M190.0 246.7l0.00 -3.24M190.0 246.7l-3.42 -1.03M190.0 246.7l3.42 -1.03M190.0 246.7l-2.07 3.06M190.0 246.7l2.07 3.06M202.5 271.0l0.00 -3.24M202.5 271.0l-3.42 -1.03M202.5 271.0l3.42 -1.03M202.5 271.0l-2.07 3.06M202.5 271.0l2.07 3.06M246.9 254.2l0.00 -3.24M246.9 254.2l-3.42 -1.03M246.9 254.2l3.42 -1.03M246.9 254.2l-2.07 3.06M246.9 254.2l2.07 3.06" fill="none" stroke="#2f4a9e" stroke-width="2.1" stroke-linecap="round"/>
<path d="M299.0 211.4l0.00 -3.24M299.0 211.4l-3.42 -1.03M299.0 211.4l3.42 -1.03M299.0 211.4l-2.07 3.06M299.0 211.4l2.07 3.06M320.0 230.0l0.00 -3.24M320.0 230.0l-3.42 -1.03M320.0 230.0l3.42 -1.03M320.0 230.0l-2.07 3.06M320.0 230.0l2.07 3.06M345.6 228.8l0.00 -3.24M345.6 228.8l-3.42 -1.03M345.6 228.8l3.42 -1.03M345.6 228.8l-2.07 3.06M345.6 228.8l2.07 3.06M304.6 237.0l0.00 -3.24M304.6 237.0l-3.42 -1.03M304.6 237.0l3.42 -1.03M304.6 237.0l-2.07 3.06M304.6 237.0l2.07 3.06M318.4 243.0l0.00 -3.24M318.4 243.0l-3.42 -1.03M318.4 243.0l3.42 -1.03M318.4 243.0l-2.07 3.06M318.4 243.0l2.07 3.06M286.6 245.6l0.00 -3.24M286.6 245.6l-3.42 -1.03M286.6 245.6l3.42 -1.03M286.6 245.6l-2.07 3.06M286.6 245.6l2.07 3.06M312.0 252.4l0.00 -3.24M312.0 252.4l-3.42 -1.03M312.0 252.4l3.42 -1.03M312.0 252.4l-2.07 3.06M312.0 252.4l2.07 3.06M364.4 241.4l0.00 -3.24M364.4 241.4l-3.42 -1.03M364.4 241.4l3.42 -1.03M364.4 241.4l-2.07 3.06M364.4 241.4l2.07 3.06M370.0 244.0l0.00 -3.24M370.0 244.0l-3.42 -1.03M370.0 244.0l3.42 -1.03M370.0 244.0l-2.07 3.06M370.0 244.0l2.07 3.06M369.0 258.9l0.00 -3.24M369.0 258.9l-3.42 -1.03M369.0 258.9l3.42 -1.03M369.0 258.9l-2.07 3.06M369.0 258.9l2.07 3.06M344.0 271.4l0.00 -3.24M344.0 271.4l-3.42 -1.03M344.0 271.4l3.42 -1.03M344.0 271.4l-2.07 3.06M344.0 271.4l2.07 3.06M395.0 261.4l0.00 -3.24M395.0 261.4l-3.42 -1.03M395.0 261.4l3.42 -1.03M395.0 261.4l-2.07 3.06M395.0 261.4l2.07 3.06M290.4 285.8l0.00 -3.24M290.4 285.8l-3.42 -1.03M290.4 285.8l3.42 -1.03M290.4 285.8l-2.07 3.06M290.4 285.8l2.07 3.06M265.3 329.7l0.00 -3.24M265.3 329.7l-3.42 -1.03M265.3 329.7l3.42 -1.03M265.3 329.7l-2.07 3.06M265.3 329.7l2.07 3.06M271.7 282.1l0.00 -3.24M271.7 282.1l-3.42 -1.03M271.7 282.1l3.42 -1.03M271.7 282.1l-2.07 3.06M271.7 282.1l2.07 3.06M274.0 262.8l0.00 -3.24M274.0 262.8l-3.42 -1.03M274.0 262.8l3.42 -1.03M274.0 262.8l-2.07 3.06M274.0 262.8l2.07 3.06M195.2 329.2l0.00 -3.24M195.2 329.2l-3.42 -1.03M195.2 329.2l3.42 -1.03M195.2 329.2l-2.07 3.06M195.2 329.2l2.07 3.06M169.0 283.4l0.00 -3.24M169.0 283.4l-3.42 -1.03M169.0 283.4l3.42 -1.03M169.0 283.4l-2.07 3.06M169.0 283.4l2.07 3.06M169.6 246.4l0.00 -3.24M169.6 246.4l-3.42 -1.03M169.6 246.4l3.42 -1.03M169.6 246.4l-2.07 3.06M169.6 246.4l2.07 3.06M174.4 184.8l0.00 -3.24M174.4 184.8l-3.42 -1.03M174.4 184.8l3.42 -1.03M174.4 184.8l-2.07 3.06M174.4 184.8l2.07 3.06M198.1 203.5l0.00 -3.24M198.1 203.5l-3.42 -1.03M198.1 203.5l3.42 -1.03M198.1 203.5l-2.07 3.06M198.1 203.5l2.07 3.06M213.1 212.9l0.00 -3.24M213.1 212.9l-3.42 -1.03M213.1 212.9l3.42 -1.03M213.1 212.9l-2.07 3.06M213.1 212.9l2.07 3.06M213.8 217.9l0.00 -3.24M213.8 217.9l-3.42 -1.03M213.8 217.9l3.42 -1.03M213.8 217.9l-2.07 3.06M213.8 217.9l2.07 3.06M195.0 227.3l0.00 -3.24M195.0 227.3l-3.42 -1.03M195.0 227.3l3.42 -1.03M195.0 227.3l-2.07 3.06M195.0 227.3l2.07 3.06M190.0 230.4l0.00 -3.24M190.0 230.4l-3.42 -1.03M190.0 230.4l3.42 -1.03M190.0 230.4l-2.07 3.06M190.0 230.4l2.07 3.06M186.2 234.2l0.00 -3.24M186.2 234.2l-3.42 -1.03M186.2 234.2l3.42 -1.03M186.2 234.2l-2.07 3.06M186.2 234.2l2.07 3.06M193.1 234.2l0.00 -3.24M193.1 234.2l-3.42 -1.03M193.1 234.2l3.42 -1.03M193.1 234.2l-2.07 3.06M193.1 234.2l2.07 3.06M197.5 231.7l0.00 -3.24M197.5 231.7l-3.42 -1.03M197.5 231.7l3.42 -1.03M197.5 231.7l-2.07 3.06M197.5 231.7l2.07 3.06M210.0 226.7l0.00 -3.24M210.0 226.7l-3.42 -1.03M210.0 226.7l3.42 -1.03M210.0 226.7l-2.07 3.06M210.0 226.7l2.07 3.06M217.5 227.9l0.00 -3.24M217.5 227.9l-3.42 -1.03M217.5 227.9l3.42 -1.03M217.5 227.9l-2.07 3.06M217.5 227.9l2.07 3.06M228.8 221.7l0.00 -3.24M228.8 221.7l-3.42 -1.03M228.8 221.7l3.42 -1.03M228.8 221.7l-2.07 3.06M228.8 221.7l2.07 3.06M225.0 229.2l0.00 -3.24M225.0 229.2l-3.42 -1.03M225.0 229.2l3.42 -1.03M225.0 229.2l-2.07 3.06M225.0 229.2l2.07 3.06M229.4 232.9l0.00 -3.24M229.4 232.9l-3.42 -1.03M229.4 232.9l3.42 -1.03M229.4 232.9l-2.07 3.06M229.4 232.9l2.07 3.06M202.5 240.4l0.00 -3.24M202.5 240.4l-3.42 -1.03M202.5 240.4l3.42 -1.03M202.5 240.4l-2.07 3.06M202.5 240.4l2.07 3.06M205.0 245.4l0.00 -3.24M205.0 245.4l-3.42 -1.03M205.0 245.4l3.42 -1.03M205.0 245.4l-2.07 3.06M205.0 245.4l2.07 3.06M201.2 249.2l0.00 -3.24M201.2 249.2l-3.42 -1.03M201.2 249.2l3.42 -1.03M201.2 249.2l-2.07 3.06M201.2 249.2l2.07 3.06M197.5 251.7l0.00 -3.24M197.5 251.7l-3.42 -1.03M197.5 251.7l3.42 -1.03M197.5 251.7l-2.07 3.06M197.5 251.7l2.07 3.06M217.5 239.2l0.00 -3.24M217.5 239.2l-3.42 -1.03M217.5 239.2l3.42 -1.03M217.5 239.2l-2.07 3.06M217.5 239.2l2.07 3.06M220.0 244.2l0.00 -3.24M220.0 244.2l-3.42 -1.03M220.0 244.2l3.42 -1.03M220.0 244.2l-2.07 3.06M220.0 244.2l2.07 3.06M221.2 249.2l0.00 -3.24M221.2 249.2l-3.42 -1.03M221.2 249.2l3.42 -1.03M221.2 249.2l-2.07 3.06M221.2 249.2l2.07 3.06M171.0 248.4l0.00 -3.24M171.0 248.4l-3.42 -1.03M171.0 248.4l3.42 -1.03M171.0 248.4l-2.07 3.06M171.0 248.4l2.07 3.06M187.5 252.3l0.00 -3.24M187.5 252.3l-3.42 -1.03M187.5 252.3l3.42 -1.03M187.5 252.3l-2.07 3.06M187.5 252.3l2.07 3.06M193.8 254.2l0.00 -3.24M193.8 254.2l-3.42 -1.03M193.8 254.2l3.42 -1.03M193.8 254.2l-2.07 3.06M193.8 254.2l2.07 3.06M226.2 237.9l0.00 -3.24M226.2 237.9l-3.42 -1.03M226.2 237.9l3.42 -1.03M226.2 237.9l-2.07 3.06M226.2 237.9l2.07 3.06M208.8 232.9l0.00 -3.24M208.8 232.9l-3.42 -1.03M208.8 232.9l3.42 -1.03M208.8 232.9l-2.07 3.06M208.8 232.9l2.07 3.06M240.6 215.4l0.00 -3.24M240.6 215.4l-3.42 -1.03M240.6 215.4l3.42 -1.03M240.6 215.4l-2.07 3.06M240.6 215.4l2.07 3.06M260.6 212.9l0.00 -3.24M260.6 212.9l-3.42 -1.03M260.6 212.9l3.42 -1.03M260.6 212.9l-2.07 3.06M260.6 212.9l2.07 3.06M259.4 216.7l0.00 -3.24M259.4 216.7l-3.42 -1.03M259.4 216.7l3.42 -1.03M259.4 216.7l-2.07 3.06M259.4 216.7l2.07 3.06M235.0 225.4l0.00 -3.24M235.0 225.4l-3.42 -1.03M235.0 225.4l3.42 -1.03M235.0 225.4l-2.07 3.06M235.0 225.4l2.07 3.06M240.0 231.0l0.00 -3.24M240.0 231.0l-3.42 -1.03M240.0 231.0l3.42 -1.03M240.0 231.0l-2.07 3.06M240.0 231.0l2.07 3.06M229.4 236.7l0.00 -3.24M229.4 236.7l-3.42 -1.03M229.4 236.7l3.42 -1.03M229.4 236.7l-2.07 3.06M229.4 236.7l2.07 3.06M227.5 241.7l0.00 -3.24M227.5 241.7l-3.42 -1.03M227.5 241.7l3.42 -1.03M227.5 241.7l-2.07 3.06M227.5 241.7l2.07 3.06M264.4 247.3l0.00 -3.24M264.4 247.3l-3.42 -1.03M264.4 247.3l3.42 -1.03M264.4 247.3l-2.07 3.06M264.4 247.3l2.07 3.06M271.9 249.8l0.00 -3.24M271.9 249.8l-3.42 -1.03M271.9 249.8l3.42 -1.03M271.9 249.8l-2.07 3.06M271.9 249.8l2.07 3.06M250.0 246.9l0.00 -3.24M250.0 246.9l-3.42 -1.03M250.0 246.9l3.42 -1.03M250.0 246.9l-2.07 3.06M250.0 246.9l2.07 3.06M234.4 249.2l0.00 -3.24M234.4 249.2l-3.42 -1.03M234.4 249.2l3.42 -1.03M234.4 249.2l-2.07 3.06M234.4 249.2l2.07 3.06M253.1 251.7l0.00 -3.24M253.1 251.7l-3.42 -1.03M253.1 251.7l3.42 -1.03M253.1 251.7l-2.07 3.06M253.1 251.7l2.07 3.06M185.0 257.9l0.00 -3.24M185.0 257.9l-3.42 -1.03M185.0 257.9l3.42 -1.03M185.0 257.9l-2.07 3.06M185.0 257.9l2.07 3.06M190.0 260.4l0.00 -3.24M190.0 260.4l-3.42 -1.03M190.0 260.4l3.42 -1.03M190.0 260.4l-2.07 3.06M190.0 260.4l2.07 3.06M195.0 257.9l0.00 -3.24M195.0 257.9l-3.42 -1.03M195.0 257.9l3.42 -1.03M195.0 257.9l-2.07 3.06M195.0 257.9l2.07 3.06M198.8 254.2l0.00 -3.24M198.8 254.2l-3.42 -1.03M198.8 254.2l3.42 -1.03M198.8 254.2l-2.07 3.06M198.8 254.2l2.07 3.06M203.8 256.6l0.00 -3.24M203.8 256.6l-3.42 -1.03M203.8 256.6l3.42 -1.03M203.8 256.6l-2.07 3.06M203.8 256.6l2.07 3.06M207.5 259.1l0.00 -3.24M207.5 259.1l-3.42 -1.03M207.5 259.1l3.42 -1.03M207.5 259.1l-2.07 3.06M207.5 259.1l2.07 3.06M196.2 262.9l0.00 -3.24M196.2 262.9l-3.42 -1.03M196.2 262.9l3.42 -1.03M196.2 262.9l-2.07 3.06M196.2 262.9l2.07 3.06M218.8 255.4l0.00 -3.24M218.8 255.4l-3.42 -1.03M218.8 255.4l3.42 -1.03M218.8 255.4l-2.07 3.06M218.8 255.4l2.07 3.06M223.8 257.9l0.00 -3.24M223.8 257.9l-3.42 -1.03M223.8 257.9l3.42 -1.03M223.8 257.9l-2.07 3.06M223.8 257.9l2.07 3.06M211.2 271.6l0.00 -3.24M211.2 271.6l-3.42 -1.03M211.2 271.6l3.42 -1.03M211.2 271.6l-2.07 3.06M211.2 271.6l2.07 3.06M215.0 275.4l0.00 -3.24M215.0 275.4l-3.42 -1.03M215.0 275.4l3.42 -1.03M215.0 275.4l-2.07 3.06M215.0 275.4l2.07 3.06M220.0 274.1l0.00 -3.24M220.0 274.1l-3.42 -1.03M220.0 274.1l3.42 -1.03M220.0 274.1l-2.07 3.06M220.0 274.1l2.07 3.06M223.8 271.6l0.00 -3.24M223.8 271.6l-3.42 -1.03M223.8 271.6l3.42 -1.03M223.8 271.6l-2.07 3.06M223.8 271.6l2.07 3.06M190.6 282.3l0.00 -3.24M190.6 282.3l-3.42 -1.03M190.6 282.3l3.42 -1.03M190.6 282.3l-2.07 3.06M190.6 282.3l2.07 3.06M197.5 282.9l0.00 -3.24M197.5 282.9l-3.42 -1.03M197.5 282.9l3.42 -1.03M197.5 282.9l-2.07 3.06M197.5 282.9l2.07 3.06M202.5 275.4l0.00 -3.24M202.5 275.4l-3.42 -1.03M202.5 275.4l3.42 -1.03M202.5 275.4l-2.07 3.06M202.5 275.4l2.07 3.06M258.8 261.6l0.00 -3.24M258.8 261.6l-3.42 -1.03M258.8 261.6l3.42 -1.03M258.8 261.6l-2.07 3.06M258.8 261.6l2.07 3.06M255.0 264.1l0.00 -3.24M255.0 264.1l-3.42 -1.03M255.0 264.1l3.42 -1.03M255.0 264.1l-2.07 3.06M255.0 264.1l2.07 3.06M261.0 264.9l0.00 -3.24M261.0 264.9l-3.42 -1.03M261.0 264.9l3.42 -1.03M261.0 264.9l-2.07 3.06M261.0 264.9l2.07 3.06M235.0 266.6l0.00 -3.24M235.0 266.6l-3.42 -1.03M235.0 266.6l3.42 -1.03M235.0 266.6l-2.07 3.06M235.0 266.6l2.07 3.06M238.8 269.1l0.00 -3.24M238.8 269.1l-3.42 -1.03M238.8 269.1l3.42 -1.03M238.8 269.1l-2.07 3.06M238.8 269.1l2.07 3.06M246.2 271.6l0.00 -3.24M246.2 271.6l-3.42 -1.03M246.2 271.6l3.42 -1.03M246.2 271.6l-2.07 3.06M246.2 271.6l2.07 3.06M226.2 271.6l0.00 -3.24M226.2 271.6l-3.42 -1.03M226.2 271.6l3.42 -1.03M226.2 271.6l-2.07 3.06M226.2 271.6l2.07 3.06M270.0 251.7l0.00 -3.24M270.0 251.7l-3.42 -1.03M270.0 251.7l3.42 -1.03M270.0 251.7l-2.07 3.06M270.0 251.7l2.07 3.06" fill="none" stroke="#f4e72e" stroke-width="2.1" stroke-linecap="round"/>
<path d="M304.0 236.0l0.00 -3.24M304.0 236.0l-3.42 -1.03M304.0 236.0l3.42 -1.03M304.0 236.0l-2.07 3.06M304.0 236.0l2.07 3.06M296.4 265.4l0.00 -3.24M296.4 265.4l-3.42 -1.03M296.4 265.4l3.42 -1.03M296.4 265.4l-2.07 3.06M296.4 265.4l2.07 3.06M288.4 270.0l0.00 -3.24M288.4 270.0l-3.42 -1.03M288.4 270.0l3.42 -1.03M288.4 270.0l-2.07 3.06M288.4 270.0l2.07 3.06M315.6 292.0l0.00 -3.24M315.6 292.0l-3.42 -1.03M315.6 292.0l3.42 -1.03M315.6 292.0l-2.07 3.06M315.6 292.0l2.07 3.06M263.0 302.8l0.00 -3.24M263.0 302.8l-3.42 -1.03M263.0 302.8l3.42 -1.03M263.0 302.8l-2.07 3.06M263.0 302.8l2.07 3.06M276.4 274.8l0.00 -3.24M276.4 274.8l-3.42 -1.03M276.4 274.8l3.42 -1.03M276.4 274.8l-2.07 3.06M276.4 274.8l2.07 3.06M270.0 274.0l0.00 -3.24M270.0 274.0l-3.42 -1.03M270.0 274.0l3.42 -1.03M270.0 274.0l-2.07 3.06M270.0 274.0l2.07 3.06M262.0 275.0l0.00 -3.24M262.0 275.0l-3.42 -1.03M262.0 275.0l3.42 -1.03M262.0 275.0l-2.07 3.06M262.0 275.0l2.07 3.06M264.0 268.8l0.00 -3.24M264.0 268.8l-3.42 -1.03M264.0 268.8l3.42 -1.03M264.0 268.8l-2.07 3.06M264.0 268.8l2.07 3.06M239.0 281.4l0.00 -3.24M239.0 281.4l-3.42 -1.03M239.0 281.4l3.42 -1.03M239.0 281.4l-2.07 3.06M239.0 281.4l2.07 3.06M239.6 288.4l0.00 -3.24M239.6 288.4l-3.42 -1.03M239.6 288.4l3.42 -1.03M239.6 288.4l-2.07 3.06M239.6 288.4l2.07 3.06M244.0 294.4l0.00 -3.24M244.0 294.4l-3.42 -1.03M244.0 294.4l3.42 -1.03M244.0 294.4l-2.07 3.06M244.0 294.4l2.07 3.06M236.4 301.0l0.00 -3.24M236.4 301.0l-3.42 -1.03M236.4 301.0l3.42 -1.03M236.4 301.0l-2.07 3.06M236.4 301.0l2.07 3.06M244.0 306.8l0.00 -3.24M244.0 306.8l-3.42 -1.03M244.0 306.8l3.42 -1.03M244.0 306.8l-2.07 3.06M244.0 306.8l2.07 3.06M203.2 337.2l0.00 -3.24M203.2 337.2l-3.42 -1.03M203.2 337.2l3.42 -1.03M203.2 337.2l-2.07 3.06M203.2 337.2l2.07 3.06M223.2 318.4l0.00 -3.24M223.2 318.4l-3.42 -1.03M223.2 318.4l3.42 -1.03M223.2 318.4l-2.07 3.06M223.2 318.4l2.07 3.06M177.0 246.4l0.00 -3.24M177.0 246.4l-3.42 -1.03M177.0 246.4l3.42 -1.03M177.0 246.4l-2.07 3.06M177.0 246.4l2.07 3.06M205.6 222.3l0.00 -3.24M205.6 222.3l-3.42 -1.03M205.6 222.3l3.42 -1.03M205.6 222.3l-2.07 3.06M205.6 222.3l2.07 3.06M203.8 231.7l0.00 -3.24M203.8 231.7l-3.42 -1.03M203.8 231.7l3.42 -1.03M203.8 231.7l-2.07 3.06M203.8 231.7l2.07 3.06M186.2 241.0l0.00 -3.24M186.2 241.0l-3.42 -1.03M186.2 241.0l3.42 -1.03M186.2 241.0l-2.07 3.06M186.2 241.0l2.07 3.06M215.0 246.0l0.00 -3.24M215.0 246.0l-3.42 -1.03M215.0 246.0l3.42 -1.03M215.0 246.0l-2.07 3.06M215.0 246.0l2.07 3.06M181.2 254.8l0.00 -3.24M181.2 254.8l-3.42 -1.03M181.2 254.8l3.42 -1.03M181.2 254.8l-2.07 3.06M181.2 254.8l2.07 3.06M265.0 217.9l0.00 -3.24M265.0 217.9l-3.42 -1.03M265.0 217.9l3.42 -1.03M265.0 217.9l-2.07 3.06M265.0 217.9l2.07 3.06M253.1 220.4l0.00 -3.24M253.1 220.4l-3.42 -1.03M253.1 220.4l3.42 -1.03M253.1 220.4l-2.07 3.06M253.1 220.4l2.07 3.06M263.5 224.4l0.00 -3.24M263.5 224.4l-3.42 -1.03M263.5 224.4l3.42 -1.03M263.5 224.4l-2.07 3.06M263.5 224.4l2.07 3.06M246.2 232.3l0.00 -3.24M246.2 232.3l-3.42 -1.03M246.2 232.3l3.42 -1.03M246.2 232.3l-2.07 3.06M246.2 232.3l2.07 3.06M242.5 237.9l0.00 -3.24M242.5 237.9l-3.42 -1.03M242.5 237.9l3.42 -1.03M242.5 237.9l-2.07 3.06M242.5 237.9l2.07 3.06M238.8 241.0l0.00 -3.24M238.8 241.0l-3.42 -1.03M238.8 241.0l3.42 -1.03M238.8 241.0l-2.07 3.06M238.8 241.0l2.07 3.06M279.4 242.9l0.00 -3.24M279.4 242.9l-3.42 -1.03M279.4 242.9l3.42 -1.03M279.4 242.9l-2.07 3.06M279.4 242.9l2.07 3.06M249.4 245.4l0.00 -3.24M249.4 245.4l-3.42 -1.03M249.4 245.4l3.42 -1.03M249.4 245.4l-2.07 3.06M249.4 245.4l2.07 3.06M242.5 251.7l0.00 -3.24M242.5 251.7l-3.42 -1.03M242.5 251.7l3.42 -1.03M242.5 251.7l-2.07 3.06M242.5 251.7l2.07 3.06M263.8 254.8l0.00 -3.24M263.8 254.8l-3.42 -1.03M263.8 254.8l3.42 -1.03M263.8 254.8l-2.07 3.06M263.8 254.8l2.07 3.06M188.8 294.8l0.00 -3.24M188.8 294.8l-3.42 -1.03M188.8 294.8l3.42 -1.03M188.8 294.8l-2.07 3.06M188.8 294.8l2.07 3.06M181.9 266.6l0.00 -3.24M181.9 266.6l-3.42 -1.03M181.9 266.6l3.42 -1.03M181.9 266.6l-2.07 3.06M181.9 266.6l2.07 3.06M181.2 271.0l0.00 -3.24M181.2 271.0l-3.42 -1.03M181.2 271.0l3.42 -1.03M181.2 271.0l-2.07 3.06M181.2 271.0l2.07 3.06M184.4 276.0l0.00 -3.24M184.4 276.0l-3.42 -1.03M184.4 276.0l3.42 -1.03M184.4 276.0l-2.07 3.06M184.4 276.0l2.07 3.06M187.5 273.5l0.00 -3.24M187.5 273.5l-3.42 -1.03M187.5 273.5l3.42 -1.03M187.5 273.5l-2.07 3.06M187.5 273.5l2.07 3.06M192.5 272.9l0.00 -3.24M192.5 272.9l-3.42 -1.03M192.5 272.9l3.42 -1.03M192.5 272.9l-2.07 3.06M192.5 272.9l2.07 3.06M202.5 264.1l0.00 -3.24M202.5 264.1l-3.42 -1.03M202.5 264.1l3.42 -1.03M202.5 264.1l-2.07 3.06M202.5 264.1l2.07 3.06M206.2 265.4l0.00 -3.24M206.2 265.4l-3.42 -1.03M206.2 265.4l3.42 -1.03M206.2 265.4l-2.07 3.06M206.2 265.4l2.07 3.06M211.2 261.6l0.00 -3.24M211.2 261.6l-3.42 -1.03M211.2 261.6l3.42 -1.03M211.2 261.6l-2.07 3.06M211.2 261.6l2.07 3.06M200.0 269.8l0.00 -3.24M200.0 269.8l-3.42 -1.03M200.0 269.8l3.42 -1.03M200.0 269.8l-2.07 3.06M200.0 269.8l2.07 3.06M227.5 262.9l0.00 -3.24M227.5 262.9l-3.42 -1.03M227.5 262.9l3.42 -1.03M227.5 262.9l-2.07 3.06M227.5 262.9l2.07 3.06M229.4 272.9l0.00 -3.24M229.4 272.9l-3.42 -1.03M229.4 272.9l3.42 -1.03M229.4 272.9l-2.07 3.06M229.4 272.9l2.07 3.06M207.5 277.3l0.00 -3.24M207.5 277.3l-3.42 -1.03M207.5 277.3l3.42 -1.03M207.5 277.3l-2.07 3.06M207.5 277.3l2.07 3.06M203.8 280.4l0.00 -3.24M203.8 280.4l-3.42 -1.03M203.8 280.4l3.42 -1.03M203.8 280.4l-2.07 3.06M203.8 280.4l2.07 3.06M214.4 284.1l0.00 -3.24M214.4 284.1l-3.42 -1.03M214.4 284.1l3.42 -1.03M214.4 284.1l-2.07 3.06M214.4 284.1l2.07 3.06M205.6 287.3l0.00 -3.24M205.6 287.3l-3.42 -1.03M205.6 287.3l3.42 -1.03M205.6 287.3l-2.07 3.06M205.6 287.3l2.07 3.06M265.0 257.3l0.00 -3.24M265.0 257.3l-3.42 -1.03M265.0 257.3l3.42 -1.03M265.0 257.3l-2.07 3.06M265.0 257.3l2.07 3.06M241.2 260.4l0.00 -3.24M241.2 260.4l-3.42 -1.03M241.2 260.4l3.42 -1.03M241.2 260.4l-2.07 3.06M241.2 260.4l2.07 3.06M246.9 262.9l0.00 -3.24M246.9 262.9l-3.42 -1.03M246.9 262.9l3.42 -1.03M246.9 262.9l-2.07 3.06M246.9 262.9l2.07 3.06M248.8 256.6l0.00 -3.24M248.8 256.6l-3.42 -1.03M248.8 256.6l3.42 -1.03M248.8 256.6l-2.07 3.06M248.8 256.6l2.07 3.06M231.2 259.8l0.00 -3.24M231.2 259.8l-3.42 -1.03M231.2 259.8l3.42 -1.03M231.2 259.8l-2.07 3.06M231.2 259.8l2.07 3.06" fill="none" stroke="#2f4a9e" stroke-width="2.1" stroke-linecap="round"/>
<path d="M216.2 266.0l0.00 -3.24M216.2 266.0l-3.42 -1.03M216.2 266.0l3.42 -1.03M216.2 266.0l-2.07 3.06M216.2 266.0l2.07 3.06" fill="none" stroke="#68b845" stroke-width="2.1" stroke-linecap="round"/>
<path d="M185.0 257.9l0.00 -3.24M185.0 257.9l-3.42 -1.03M185.0 257.9l3.42 -1.03M185.0 257.9l-2.07 3.06M185.0 257.9l2.07 3.06M190.0 260.4l0.00 -3.24M190.0 260.4l-3.42 -1.03M190.0 260.4l3.42 -1.03M190.0 260.4l-2.07 3.06M190.0 260.4l2.07 3.06M195.0 257.9l0.00 -3.24M195.0 257.9l-3.42 -1.03M195.0 257.9l3.42 -1.03M195.0 257.9l-2.07 3.06M195.0 257.9l2.07 3.06M215.0 275.4l0.00 -3.24M215.0 275.4l-3.42 -1.03M215.0 275.4l3.42 -1.03M215.0 275.4l-2.07 3.06M215.0 275.4l2.07 3.06M220.0 274.1l0.00 -3.24M220.0 274.1l-3.42 -1.03M220.0 274.1l3.42 -1.03M220.0 274.1l-2.07 3.06M220.0 274.1l2.07 3.06" fill="none" stroke="#f4e72e" stroke-width="2.1" stroke-linecap="round"/>
<rect x="76" y="29" width="415" height="388" fill="none" stroke="#1a1a1a" stroke-width="1.4"/>
<path d="M117.7 417v14.8M172.1 417v14.8M226.4 417v14.8M280.8 417v14.8M335.1 417v14.8M389.4 417v14.8M443.8 417v14.8M76 88.2h-14.5M76 173.3h-14.5M76 258.4h-14.5M76 343.5h-14.5" fill="none" stroke="#1a1a1a" stroke-width="1.4"/>
<rect x="386.5" y="29" width="104.5" height="81" fill="#fff" stroke="#1a1a1a" stroke-width="1.4"/>
<path d="M398.4 45.6l0.00 -4.14M398.4 45.6l-4.37 -1.32M398.4 45.6l4.37 -1.32M398.4 45.6l-2.64 3.91M398.4 45.6l2.64 3.91" fill="none" stroke="#e5232e" stroke-width="2.35" stroke-linecap="round"/>
<path d="M398.4 62.0l0.00 -4.14M398.4 62.0l-4.37 -1.32M398.4 62.0l4.37 -1.32M398.4 62.0l-2.64 3.91M398.4 62.0l2.64 3.91" fill="none" stroke="#2f4a9e" stroke-width="2.35" stroke-linecap="round"/>
<path d="M398.4 78.0l0.00 -4.14M398.4 78.0l-4.37 -1.32M398.4 78.0l4.37 -1.32M398.4 78.0l-2.64 3.91M398.4 78.0l2.64 3.91" fill="none" stroke="#68b845" stroke-width="2.35" stroke-linecap="round"/>
<path d="M398.4 94.2l0.00 -4.14M398.4 94.2l-4.37 -1.32M398.4 94.2l4.37 -1.32M398.4 94.2l-2.64 3.91M398.4 94.2l2.64 3.91" fill="none" stroke="#f4e72e" stroke-width="2.35" stroke-linecap="round"/>
<text x="410.4" y="50.1" font-family="Liberation Sans, Arial, Helvetica, sans-serif" font-size="13.65" fill="#0a0a0a" stroke="#0a0a0a" stroke-width="0.45">AAM tumor</text>
<text x="410.4" y="66.5" font-family="Liberation Sans, Arial, Helvetica, sans-serif" font-size="13.65" fill="#0a0a0a" stroke="#0a0a0a" stroke-width="0.45">AAM control</text>
<text x="410.4" y="82.5" font-family="Liberation Sans, Arial, Helvetica, sans-serif" font-size="13.65" fill="#0a0a0a" stroke="#0a0a0a" stroke-width="0.45">EAM tumor</text>
<text x="410.4" y="98.7" font-family="Liberation Sans, Arial, Helvetica, sans-serif" font-size="13.65" fill="#0a0a0a" stroke="#0a0a0a" stroke-width="0.45">EAM control</text>
<text x="116.5" y="445" text-anchor="middle" font-family="Liberation Sans, Arial, Helvetica, sans-serif" font-size="13.25" fill="#0a0a0a" stroke="#0a0a0a" stroke-width="0.45">−0.040</text>
<text x="170.9" y="445" text-anchor="middle" font-family="Liberation Sans, Arial, Helvetica, sans-serif" font-size="13.25" fill="#0a0a0a" stroke="#0a0a0a" stroke-width="0.45">−0.035</text>
<text x="225.2" y="445" text-anchor="middle" font-family="Liberation Sans, Arial, Helvetica, sans-serif" font-size="13.25" fill="#0a0a0a" stroke="#0a0a0a" stroke-width="0.45">−0.030</text>
<text x="279.6" y="445" text-anchor="middle" font-family="Liberation Sans, Arial, Helvetica, sans-serif" font-size="13.25" fill="#0a0a0a" stroke="#0a0a0a" stroke-width="0.45">−0.025</text>
<text x="333.9" y="445" text-anchor="middle" font-family="Liberation Sans, Arial, Helvetica, sans-serif" font-size="13.25" fill="#0a0a0a" stroke="#0a0a0a" stroke-width="0.45">−0.020</text>
<text x="388.2" y="445" text-anchor="middle" font-family="Liberation Sans, Arial, Helvetica, sans-serif" font-size="13.25" fill="#0a0a0a" stroke="#0a0a0a" stroke-width="0.45">−0.015</text>
<text x="442.6" y="445" text-anchor="middle" font-family="Liberation Sans, Arial, Helvetica, sans-serif" font-size="13.25" fill="#0a0a0a" stroke="#0a0a0a" stroke-width="0.45">−0.010</text>
<text transform="translate(57 88.2) rotate(-90)" text-anchor="middle" font-family="Liberation Sans, Arial, Helvetica, sans-serif" font-size="13.25" fill="#0a0a0a" stroke="#0a0a0a" stroke-width="0.45">0.05</text>
<text transform="translate(57 173.3) rotate(-90)" text-anchor="middle" font-family="Liberation Sans, Arial, Helvetica, sans-serif" font-size="13.25" fill="#0a0a0a" stroke="#0a0a0a" stroke-width="0.45">0.00</text>
<text transform="translate(57 258.4) rotate(-90)" text-anchor="middle" font-family="Liberation Sans, Arial, Helvetica, sans-serif" font-size="13.25" fill="#0a0a0a" stroke="#0a0a0a" stroke-width="0.45">−0.05</text>
<text transform="translate(57 343.5) rotate(-90)" text-anchor="middle" font-family="Liberation Sans, Arial, Helvetica, sans-serif" font-size="13.25" fill="#0a0a0a" stroke="#0a0a0a" stroke-width="0.45">−0.10</text>
<text x="282.5" y="461" text-anchor="middle" font-family="Liberation Sans, Arial, Helvetica, sans-serif" font-size="13.25" fill="#0a0a0a" stroke="#0a0a0a" stroke-width="0.45">PC1</text>
<text transform="translate(38 223) rotate(-90)" text-anchor="middle" font-family="Liberation Sans, Arial, Helvetica, sans-serif" font-size="13.25" fill="#0a0a0a" stroke="#0a0a0a" stroke-width="0.45">PC2</text>
</svg>
</body></html>
